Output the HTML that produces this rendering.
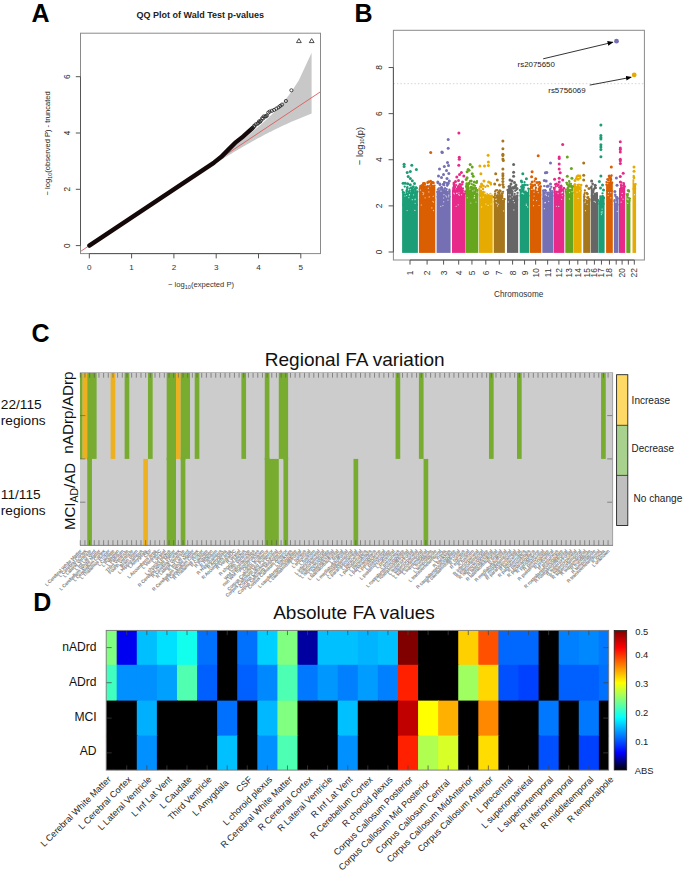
<!DOCTYPE html>
<html><head><meta charset="utf-8"><title>Figure</title>
<style>html,body{margin:0;padding:0;background:#fff;overflow:hidden;width:685px;height:870px;}svg{display:block;}</style></head>
<body><svg width="685" height="870" viewBox="0 0 685 870" font-family='"Liberation Sans", sans-serif'>
<rect width="685" height="870" fill="#fff"/>
<text x="31.4" y="21.7" font-size="25" font-weight="bold" fill="#000">A</text>
<text x="354.6" y="21.9" font-size="25" font-weight="bold" fill="#000">B</text>
<text x="31.6" y="341.5" font-size="25" font-weight="bold" fill="#000">C</text>
<text x="33.2" y="610.8" font-size="25" font-weight="bold" fill="#000">D</text>
<polygon fill="#c8c8c8" points="311.6,52.72 298.86,80.33 291.42,91.79 286.13,98.72 282.03,103.59 278.68,107.31 275.85,110.31 273.4,112.82 271.23,114.96 269.3,116.83 267.55,118.49 265.95,119.97 264.48,121.32 263.12,122.55 261.85,123.68 260.66,124.72 259.55,125.7 258.5,126.6 257.51,127.46 256.56,128.26 255.67,129.02 254.81,129.74 254,130.42 253.22,131.07 252.47,131.7 251.74,132.29 251.05,132.86 250.38,133.4 249.74,133.93 249.12,134.43 248.51,134.92 247.93,135.39 247.36,135.84 246.82,136.28 246.28,136.71 245.77,137.12 245.26,137.52 244.77,137.91 244.3,138.28 243.83,138.65 242.93,139.35 242.5,139.69 242.08,140.02 241.26,140.66 240.87,140.97 240.1,141.56 239.73,141.85 239.01,142.4 238.66,142.67 237.98,143.19 237.65,143.45 237.01,143.94 236.38,144.41 235.78,144.87 235.2,145.32 234.63,145.74 234.08,146.16 233.55,146.56 233.03,146.95 232.53,147.33 232.04,147.69 231.33,148.23 230.87,148.57 230.2,149.07 229.77,149.39 229.14,149.86 228.53,150.31 227.94,150.75 227.56,151.03 227,151.44 226.28,151.97 225.76,152.36 225.25,152.73 224.75,153.09 224.11,153.56 223.5,154.01 223.05,154.34 222.46,154.77 221.9,155.18 221.35,155.58 220.82,155.96 220.17,156.43 219.67,156.79 219.07,157.23 218.59,157.57 218.02,157.99 217.47,158.39 216.93,158.77 216.3,159.22 215.8,159.59 215.21,160.01 214.64,160.42 214.08,160.81 213.54,161.2 213.02,161.57 212.43,161.99 211.86,162.4 211.3,162.8 210.76,163.18 210.17,163.6 209.66,163.96 209.09,164.36 208.55,164.75 207.95,165.17 207.44,165.53 206.88,165.93 206.27,166.35 205.75,166.73 205.18,167.13 204.62,167.51 204.09,167.89 203.52,168.29 202.96,168.68 202.38,169.09 201.86,169.46 201.3,169.84 200.72,170.25 200.16,170.64 199.61,171.02 199.04,171.42 198.49,171.81 197.95,172.18 197.39,172.57 196.82,172.97 196.26,173.36 195.71,173.74 195.15,174.13 194.61,174.51 194.05,174.89 193.48,175.29 192.93,175.67 192.36,176.07 191.81,176.45 191.25,176.83 190.71,177.21 190.13,177.61 189.6,177.98 189.03,178.37 188.48,178.75 187.92,179.13 187.36,179.51 186.8,179.9 186.25,180.28 185.68,180.67 185.13,181.05 184.57,181.43 184.01,181.82 183.46,182.2 182.9,182.58 182.34,182.96 181.78,183.35 181.23,183.73 180.67,184.11 180.12,184.48 179.56,184.87 179,185.25 178.44,185.63 177.88,186.01 177.32,186.4 176.77,186.78 176.21,187.15 175.66,187.53 175.1,187.91 174.54,188.29 173.98,188.68 173.43,189.05 172.87,189.43 172.32,189.81 171.75,190.19 171.2,190.57 170.64,190.95 170.09,191.32 169.53,191.71 168.97,192.08 168.42,192.46 167.86,192.84 167.3,193.22 166.74,193.6 166.19,193.97 165.63,194.35 165.07,194.73 164.52,195.11 163.96,195.49 163.4,195.86 162.84,196.24 162.29,196.62 161.73,197 161.17,197.37 160.61,197.75 160.06,198.13 159.5,198.5 158.94,198.88 158.39,199.25 157.83,199.63 157.27,200.01 156.72,200.38 156.16,200.76 155.6,201.14 155.04,201.51 154.49,201.89 153.93,202.27 153.37,202.64 152.82,203.02 152.26,203.39 151.7,203.77 151.14,204.14 150.59,204.52 150.03,204.89 149.47,205.27 148.91,205.65 148.36,206.02 147.8,206.4 147.24,206.77 146.68,207.15 146.13,207.52 145.57,207.9 145.01,208.27 144.46,208.65 143.9,209.02 143.34,209.4 142.79,209.77 142.23,210.14 141.67,210.52 141.11,210.89 140.56,211.27 140,211.64 139.44,212.02 138.89,212.39 138.33,212.76 137.77,213.14 137.21,213.51 136.66,213.89 136.1,214.26 135.54,214.63 134.99,215.01 134.43,215.38 133.87,215.76 133.31,216.13 132.76,216.5 132.2,216.88 131.64,217.25 131.09,217.62 130.53,218 129.97,218.37 129.41,218.75 128.86,219.12 128.3,219.49 127.74,219.87 127.19,220.24 126.63,220.61 126.07,220.99 125.51,221.36 124.96,221.73 124.4,222.11 123.84,222.48 123.29,222.85 122.73,223.23 122.17,223.6 121.61,223.97 121.06,224.34 120.5,224.72 119.94,225.09 119.39,225.46 118.83,225.84 118.27,226.21 117.71,226.58 117.16,226.95 116.6,227.33 116.04,227.7 115.49,228.07 114.93,228.45 114.37,228.82 113.81,229.19 113.26,229.56 112.7,229.94 112.14,230.31 111.59,230.68 111.03,231.05 110.47,231.43 109.91,231.8 109.36,232.17 108.8,232.55 108.24,232.92 107.69,233.29 107.13,233.66 106.57,234.04 106.01,234.41 105.46,234.78 104.9,235.15 104.34,235.53 103.79,235.9 103.23,236.27 102.67,236.64 102.11,237.02 101.56,237.39 101,237.76 100.44,238.13 99.89,238.51 99.33,238.88 98.77,239.25 98.21,239.62 97.66,240 97.1,240.37 96.54,240.74 95.99,241.11 95.43,241.49 94.87,241.86 94.31,242.23 93.76,242.6 93.2,242.98 92.64,243.35 92.09,243.72 91.53,244.1 90.97,244.47 90.41,244.84 89.86,245.22 89.3,245.6 89.3,245.6 89.86,245.24 90.41,244.87 90.97,244.5 91.53,244.14 92.09,243.77 92.64,243.4 93.2,243.03 93.76,242.66 94.31,242.29 94.87,241.93 95.43,241.56 95.99,241.19 96.54,240.82 97.1,240.45 97.66,240.08 98.21,239.71 98.77,239.34 99.33,238.97 99.89,238.61 100.44,238.24 101,237.87 101.56,237.5 102.11,237.13 102.67,236.76 103.23,236.39 103.79,236.02 104.34,235.65 104.9,235.28 105.46,234.91 106.01,234.55 106.57,234.18 107.13,233.81 107.69,233.44 108.24,233.07 108.8,232.7 109.36,232.33 109.91,231.96 110.47,231.59 111.03,231.22 111.59,230.86 112.14,230.49 112.7,230.12 113.26,229.75 113.81,229.38 114.37,229.01 114.93,228.64 115.49,228.27 116.04,227.91 116.6,227.54 117.16,227.17 117.71,226.8 118.27,226.43 118.83,226.06 119.39,225.69 119.94,225.32 120.5,224.96 121.06,224.59 121.61,224.22 122.17,223.85 122.73,223.48 123.29,223.11 123.84,222.75 124.4,222.38 124.96,222.01 125.51,221.64 126.07,221.27 126.63,220.9 127.19,220.54 127.74,220.17 128.3,219.8 128.86,219.43 129.41,219.06 129.97,218.69 130.53,218.33 131.09,217.96 131.64,217.59 132.2,217.22 132.76,216.86 133.31,216.49 133.87,216.12 134.43,215.75 134.99,215.38 135.54,215.02 136.1,214.65 136.66,214.28 137.21,213.91 137.77,213.55 138.33,213.18 138.89,212.81 139.44,212.44 140,212.08 140.56,211.71 141.11,211.34 141.67,210.98 142.23,210.61 142.79,210.24 143.34,209.87 143.9,209.51 144.46,209.14 145.01,208.77 145.57,208.41 146.13,208.04 146.68,207.67 147.24,207.31 147.8,206.94 148.36,206.57 148.91,206.21 149.47,205.84 150.03,205.47 150.59,205.11 151.14,204.74 151.7,204.38 152.26,204.01 152.82,203.64 153.37,203.28 153.93,202.91 154.49,202.55 155.04,202.18 155.6,201.81 156.16,201.45 156.72,201.08 157.27,200.72 157.83,200.35 158.39,199.99 158.94,199.62 159.5,199.26 160.06,198.89 160.61,198.53 161.17,198.16 161.73,197.8 162.29,197.43 162.84,197.07 163.4,196.7 163.96,196.34 164.52,195.97 165.07,195.61 165.63,195.25 166.19,194.88 166.74,194.52 167.3,194.16 167.86,193.79 168.42,193.43 168.97,193.07 169.53,192.7 170.09,192.34 170.64,191.97 171.2,191.61 171.75,191.25 172.32,190.89 172.87,190.53 173.43,190.16 173.98,189.8 174.54,189.44 175.1,189.07 175.66,188.71 176.21,188.35 176.77,187.99 177.32,187.63 177.88,187.27 178.44,186.91 179,186.55 179.56,186.18 180.12,185.82 180.67,185.46 181.23,185.1 181.78,184.74 182.34,184.38 182.9,184.02 183.46,183.66 184.01,183.3 184.57,182.94 185.13,182.58 185.68,182.22 186.25,181.86 186.8,181.5 187.36,181.14 187.92,180.78 188.48,180.42 189.03,180.07 189.6,179.7 190.13,179.36 190.71,178.99 191.25,178.64 191.81,178.28 192.36,177.93 192.93,177.57 193.48,177.21 194.05,176.85 194.61,176.49 195.15,176.14 195.71,175.78 196.26,175.44 196.82,175.08 197.39,174.71 197.95,174.35 198.49,174.01 199.04,173.66 199.61,173.3 200.16,172.95 200.72,172.59 201.3,172.22 201.86,171.87 202.38,171.54 202.96,171.17 203.52,170.82 204.09,170.46 204.62,170.12 205.18,169.77 205.75,169.41 206.27,169.08 206.88,168.7 207.44,168.35 207.95,168.02 208.55,167.65 209.09,167.31 209.66,166.95 210.17,166.63 210.76,166.26 211.3,165.92 211.86,165.58 212.43,165.22 213.02,164.85 213.54,164.52 214.08,164.19 214.64,163.84 215.21,163.49 215.8,163.12 216.3,162.81 216.93,162.42 217.47,162.09 218.02,161.74 218.59,161.39 219.07,161.1 219.67,160.72 220.17,160.42 220.82,160.02 221.35,159.69 221.9,159.36 222.46,159.01 223.05,158.65 223.5,158.38 224.11,158 224.75,157.61 225.25,157.31 225.76,157 226.28,156.68 227,156.25 227.56,155.91 227.94,155.68 228.53,155.32 229.14,154.95 229.77,154.57 230.2,154.31 230.87,153.91 231.33,153.63 232.04,153.21 232.53,152.92 233.03,152.62 233.55,152.31 234.08,151.99 234.63,151.66 235.2,151.33 235.78,150.98 236.38,150.63 237.01,150.26 237.65,149.88 237.98,149.68 238.66,149.28 239.01,149.08 239.73,148.66 240.1,148.44 240.87,147.99 241.26,147.76 242.08,147.29 242.5,147.04 242.93,146.79 243.83,146.27 244.3,146.01 244.77,145.73 245.26,145.45 245.77,145.16 246.28,144.87 246.82,144.56 247.36,144.25 247.93,143.93 248.51,143.6 249.12,143.26 249.74,142.9 250.38,142.54 251.05,142.17 251.74,141.78 252.47,141.37 253.22,140.96 254,140.52 254.81,140.07 255.67,139.6 256.56,139.11 257.51,138.6 258.5,138.06 259.55,137.49 260.66,136.89 261.85,136.25 263.12,135.58 264.48,134.86 265.95,134.09 267.55,133.26 269.3,132.36 271.23,131.38 273.4,130.29 275.85,129.08 278.68,127.7 282.03,126.11 286.13,124.21 291.42,121.84 298.86,118.66 311.6,113.62"/>
<line x1="80.5" y1="251.46" x2="320.5" y2="91.74" stroke="#dc5a5a" stroke-width="0.9"/>
<path d="M89.3,245.6 L214.08,162.56 Q222.5,156.5 228.5,149.5 T243.5,136.2 L252.5,128.2" stroke="#150808" stroke-width="4.4" stroke-linecap="round" stroke-linejoin="round" fill="none"/>
<circle cx="251.74" cy="128.69" r="1.6" fill="none" stroke="#2a2a2a" stroke-width="0.8"/>
<circle cx="252.86" cy="127.87" r="1.6" fill="none" stroke="#2a2a2a" stroke-width="0.8"/>
<circle cx="254.1" cy="125.86" r="1.6" fill="none" stroke="#2a2a2a" stroke-width="0.8"/>
<circle cx="254.47" cy="126.47" r="1.6" fill="none" stroke="#2a2a2a" stroke-width="0.8"/>
<circle cx="255.71" cy="124.34" r="1.6" fill="none" stroke="#2a2a2a" stroke-width="0.8"/>
<circle cx="257.43" cy="123.87" r="1.6" fill="none" stroke="#2a2a2a" stroke-width="0.8"/>
<circle cx="258.26" cy="122.95" r="1.6" fill="none" stroke="#2a2a2a" stroke-width="0.8"/>
<circle cx="259.05" cy="121.37" r="1.6" fill="none" stroke="#2a2a2a" stroke-width="0.8"/>
<circle cx="260.03" cy="121.87" r="1.6" fill="none" stroke="#2a2a2a" stroke-width="0.8"/>
<circle cx="260.9" cy="120.68" r="1.6" fill="none" stroke="#2a2a2a" stroke-width="0.8"/>
<circle cx="262.04" cy="118.39" r="1.6" fill="none" stroke="#2a2a2a" stroke-width="0.8"/>
<circle cx="263.11" cy="118.52" r="1.6" fill="none" stroke="#2a2a2a" stroke-width="0.8"/>
<circle cx="263.64" cy="116.46" r="1.6" fill="none" stroke="#2a2a2a" stroke-width="0.8"/>
<circle cx="265.19" cy="116.41" r="1.6" fill="none" stroke="#2a2a2a" stroke-width="0.8"/>
<circle cx="266.03" cy="116.29" r="1.6" fill="none" stroke="#2a2a2a" stroke-width="0.8"/>
<circle cx="267.01" cy="115.44" r="1.6" fill="none" stroke="#2a2a2a" stroke-width="0.8"/>
<circle cx="268.3" cy="112.6" r="1.6" fill="none" stroke="#1a1a1a" stroke-width="0.75"/>
<circle cx="269.7" cy="111.6" r="1.6" fill="none" stroke="#1a1a1a" stroke-width="0.75"/>
<circle cx="271.9" cy="110.8" r="1.6" fill="none" stroke="#1a1a1a" stroke-width="0.75"/>
<circle cx="274.1" cy="109.9" r="1.6" fill="none" stroke="#1a1a1a" stroke-width="0.75"/>
<circle cx="276.3" cy="108.6" r="1.6" fill="none" stroke="#1a1a1a" stroke-width="0.75"/>
<circle cx="278.5" cy="107.3" r="1.6" fill="none" stroke="#1a1a1a" stroke-width="0.75"/>
<circle cx="280.2" cy="105.9" r="1.6" fill="none" stroke="#1a1a1a" stroke-width="0.75"/>
<circle cx="282" cy="104.6" r="1.6" fill="none" stroke="#1a1a1a" stroke-width="0.75"/>
<circle cx="285.9" cy="101" r="1.6" fill="none" stroke="#1a1a1a" stroke-width="0.75"/>
<circle cx="291.4" cy="90.3" r="1.6" fill="none" stroke="#1a1a1a" stroke-width="0.75"/>
<polygon points="296.5,42.6 301.3,42.6 298.9,38.6" fill="none" stroke="#222" stroke-width="0.8"/>
<polygon points="309.3,42.6 314.1,42.6 311.7,38.6" fill="none" stroke="#222" stroke-width="0.8"/>
<rect x="80.5" y="33.2" width="240" height="220.4" fill="none" stroke="#8a8a8a" stroke-width="1"/>
<line x1="80.5" y1="245.6" x2="80.5" y2="76.7" stroke="#555" stroke-width="1"/>
<line x1="89.3" y1="253.6" x2="300.8" y2="253.6" stroke="#555" stroke-width="1"/>
<line x1="75.8" y1="245.6" x2="80.5" y2="245.6" stroke="#555" stroke-width="1"/>
<text transform="translate(70.0,245.6) rotate(-90)" text-anchor="middle" font-size="8.3" fill="#1e1e1e">0</text>
<line x1="75.8" y1="189.3" x2="80.5" y2="189.3" stroke="#555" stroke-width="1"/>
<text transform="translate(70.0,189.3) rotate(-90)" text-anchor="middle" font-size="8.3" fill="#1e1e1e">2</text>
<line x1="75.8" y1="133" x2="80.5" y2="133" stroke="#555" stroke-width="1"/>
<text transform="translate(70.0,133) rotate(-90)" text-anchor="middle" font-size="8.3" fill="#1e1e1e">4</text>
<line x1="75.8" y1="76.7" x2="80.5" y2="76.7" stroke="#555" stroke-width="1"/>
<text transform="translate(70.0,76.7) rotate(-90)" text-anchor="middle" font-size="8.3" fill="#1e1e1e">6</text>
<line x1="89.3" y1="253.6" x2="89.3" y2="258.4" stroke="#555" stroke-width="1"/>
<text x="89.3" y="270.3" text-anchor="middle" font-size="8.1" fill="#333">0</text>
<line x1="131.6" y1="253.6" x2="131.6" y2="258.4" stroke="#555" stroke-width="1"/>
<text x="131.6" y="270.3" text-anchor="middle" font-size="8.1" fill="#333">1</text>
<line x1="173.9" y1="253.6" x2="173.9" y2="258.4" stroke="#555" stroke-width="1"/>
<text x="173.9" y="270.3" text-anchor="middle" font-size="8.1" fill="#333">2</text>
<line x1="216.2" y1="253.6" x2="216.2" y2="258.4" stroke="#555" stroke-width="1"/>
<text x="216.2" y="270.3" text-anchor="middle" font-size="8.1" fill="#333">3</text>
<line x1="258.5" y1="253.6" x2="258.5" y2="258.4" stroke="#555" stroke-width="1"/>
<text x="258.5" y="270.3" text-anchor="middle" font-size="8.1" fill="#333">4</text>
<line x1="300.8" y1="253.6" x2="300.8" y2="258.4" stroke="#555" stroke-width="1"/>
<text x="300.8" y="270.3" text-anchor="middle" font-size="8.1" fill="#333">5</text>
<text x="201.0" y="287.1" text-anchor="middle" font-size="7.6" fill="#333">− log<tspan font-size="5.6" dy="1.6">10</tspan><tspan dy="-1.6">(expected P)</tspan></text>
<text transform="translate(49.9,143.4) rotate(-90)" text-anchor="middle" font-size="7.55" fill="#222">− log<tspan font-size="5.6" dy="1.6">10</tspan><tspan dy="-1.6">(observed P) - truncated</tspan></text>
<text x="200.3" y="18.3" text-anchor="middle" font-size="9" font-weight="bold" fill="#222">QQ Plot of Wald Test p-values</text>
<rect x="402.1" y="204" width="15.8" height="48.9" fill="#1B9E77"/>
<polygon fill="#1B9E77" points="402.1,191.37 403.86,191.37 403.86,193.7 405.61,193.7 405.61,190.93 407.37,190.93 407.37,192.65 409.12,192.65 409.12,192.41 410.88,192.41 410.88,190.12 412.63,190.12 412.63,192.01 414.39,192.01 414.39,189.76 416.14,189.76 416.14,191.29 417.9,191.29 417.9,205.5 402.1,205.5"/>
<circle cx="402.39" cy="189.94" r="1.15" fill="#1B9E77"/>
<circle cx="402.88" cy="192.15" r="1.15" fill="#1B9E77"/>
<circle cx="404.22" cy="192.67" r="1.15" fill="#1B9E77"/>
<circle cx="404.91" cy="194.84" r="1.15" fill="#1B9E77"/>
<circle cx="406.59" cy="190.42" r="1.15" fill="#1B9E77"/>
<circle cx="407.13" cy="189.37" r="1.15" fill="#1B9E77"/>
<circle cx="408.73" cy="191.82" r="1.15" fill="#1B9E77"/>
<circle cx="407.76" cy="191.31" r="1.15" fill="#1B9E77"/>
<circle cx="409.74" cy="193.16" r="1.15" fill="#1B9E77"/>
<circle cx="409.57" cy="192.45" r="1.15" fill="#1B9E77"/>
<circle cx="411.94" cy="189.54" r="1.15" fill="#1B9E77"/>
<circle cx="411.82" cy="188.61" r="1.15" fill="#1B9E77"/>
<circle cx="412.91" cy="190.93" r="1.15" fill="#1B9E77"/>
<circle cx="413.76" cy="191.59" r="1.15" fill="#1B9E77"/>
<circle cx="415.01" cy="189.81" r="1.15" fill="#1B9E77"/>
<circle cx="415.2" cy="188.96" r="1.15" fill="#1B9E77"/>
<circle cx="417.42" cy="191.69" r="1.15" fill="#1B9E77"/>
<circle cx="416.68" cy="191.32" r="1.15" fill="#1B9E77"/>
<circle cx="415.18" cy="188.87" r="1.15" fill="#1B9E77"/>
<circle cx="407.07" cy="187.85" r="1.15" fill="#1B9E77"/>
<circle cx="404.73" cy="186.6" r="1.15" fill="#1B9E77"/>
<circle cx="413.55" cy="189.41" r="1.15" fill="#1B9E77"/>
<circle cx="409.85" cy="190.74" r="1.15" fill="#1B9E77"/>
<circle cx="412.32" cy="191.3" r="1.15" fill="#1B9E77"/>
<circle cx="411.01" cy="187.68" r="1.15" fill="#1B9E77"/>
<circle cx="407.43" cy="187.12" r="1.15" fill="#1B9E77"/>
<circle cx="411.3" cy="188.02" r="1.15" fill="#1B9E77"/>
<circle cx="409.4" cy="188.6" r="1.15" fill="#1B9E77"/>
<circle cx="416.14" cy="187.3" r="1.15" fill="#1B9E77"/>
<circle cx="412.27" cy="189.13" r="1.15" fill="#1B9E77"/>
<circle cx="412.78" cy="191.2" r="1.15" fill="#1B9E77"/>
<circle cx="416.8" cy="188.26" r="1.15" fill="#1B9E77"/>
<circle cx="407.11" cy="210.52" r="0.6" fill="#ffffff" fill-opacity="0.75"/>
<circle cx="412.26" cy="199.65" r="0.6" fill="#ffffff" fill-opacity="0.75"/>
<circle cx="409.49" cy="194.57" r="0.6" fill="#ffffff" fill-opacity="0.75"/>
<circle cx="404.87" cy="195.98" r="0.6" fill="#ffffff" fill-opacity="0.75"/>
<circle cx="413.59" cy="194.81" r="0.6" fill="#ffffff" fill-opacity="0.75"/>
<circle cx="406.62" cy="195.5" r="0.6" fill="#ffffff" fill-opacity="0.75"/>
<circle cx="414.98" cy="199.76" r="0.6" fill="#ffffff" fill-opacity="0.75"/>
<circle cx="409.32" cy="194.99" r="0.6" fill="#ffffff" fill-opacity="0.75"/>
<circle cx="415.14" cy="203.26" r="0.6" fill="#ffffff" fill-opacity="0.75"/>
<circle cx="414.88" cy="210.44" r="0.6" fill="#ffffff" fill-opacity="0.75"/>
<circle cx="408.86" cy="197.66" r="0.6" fill="#ffffff" fill-opacity="0.75"/>
<circle cx="415.15" cy="199.12" r="0.6" fill="#ffffff" fill-opacity="0.75"/>
<circle cx="404.1" cy="164.3" r="1.5" fill="#1B9E77"/>
<circle cx="404.1" cy="166.4" r="1.5" fill="#1B9E77"/>
<circle cx="411.8" cy="165.3" r="1.5" fill="#1B9E77"/>
<circle cx="416.4" cy="169.4" r="1.5" fill="#1B9E77"/>
<circle cx="407.2" cy="172.5" r="1.5" fill="#1B9E77"/>
<circle cx="410.3" cy="171.5" r="1.5" fill="#1B9E77"/>
<circle cx="408.2" cy="176.6" r="1.5" fill="#1B9E77"/>
<circle cx="410.3" cy="178.6" r="1.5" fill="#1B9E77"/>
<circle cx="412.3" cy="180.7" r="1.5" fill="#1B9E77"/>
<circle cx="403.1" cy="183.2" r="1.5" fill="#1B9E77"/>
<circle cx="405.2" cy="183.2" r="1.5" fill="#1B9E77"/>
<circle cx="407.7" cy="183.7" r="1.5" fill="#1B9E77"/>
<circle cx="410.3" cy="184.7" r="1.5" fill="#1B9E77"/>
<circle cx="413.3" cy="186.8" r="1.5" fill="#1B9E77"/>
<circle cx="415.9" cy="188" r="1.5" fill="#1B9E77"/>
<circle cx="414.5" cy="183.5" r="1.5" fill="#1B9E77"/>
<rect x="418.9" y="199" width="16.4" height="53.9" fill="#D95F02"/>
<polygon fill="#D95F02" points="418.9,188.26 420.54,188.26 420.54,186.64 422.18,186.64 422.18,186.14 423.82,186.14 423.82,185.88 425.46,185.88 425.46,187.49 427.1,187.49 427.1,189.11 428.74,189.11 428.74,187.71 430.38,187.71 430.38,185.14 432.02,185.14 432.02,186.62 433.66,186.62 433.66,187.09 435.3,187.09 435.3,200.5 418.9,200.5"/>
<circle cx="419.8" cy="189.42" r="1.15" fill="#D95F02"/>
<circle cx="419.96" cy="188.11" r="1.15" fill="#D95F02"/>
<circle cx="421.51" cy="186.97" r="1.15" fill="#D95F02"/>
<circle cx="420.81" cy="187.64" r="1.15" fill="#D95F02"/>
<circle cx="423.35" cy="187.07" r="1.15" fill="#D95F02"/>
<circle cx="423.37" cy="185.62" r="1.15" fill="#D95F02"/>
<circle cx="424.51" cy="184.49" r="1.15" fill="#D95F02"/>
<circle cx="424.81" cy="184.36" r="1.15" fill="#D95F02"/>
<circle cx="425.74" cy="186.42" r="1.15" fill="#D95F02"/>
<circle cx="425.86" cy="186.81" r="1.15" fill="#D95F02"/>
<circle cx="427.37" cy="187.41" r="1.15" fill="#D95F02"/>
<circle cx="427.49" cy="187.71" r="1.15" fill="#D95F02"/>
<circle cx="429.39" cy="186.09" r="1.15" fill="#D95F02"/>
<circle cx="430.02" cy="187.86" r="1.15" fill="#D95F02"/>
<circle cx="430.76" cy="184.19" r="1.15" fill="#D95F02"/>
<circle cx="431.01" cy="184.53" r="1.15" fill="#D95F02"/>
<circle cx="432.37" cy="187.47" r="1.15" fill="#D95F02"/>
<circle cx="433.45" cy="186.32" r="1.15" fill="#D95F02"/>
<circle cx="434.46" cy="185.65" r="1.15" fill="#D95F02"/>
<circle cx="433.99" cy="186.42" r="1.15" fill="#D95F02"/>
<circle cx="431.84" cy="185.68" r="1.15" fill="#D95F02"/>
<circle cx="420.23" cy="186.19" r="1.15" fill="#D95F02"/>
<circle cx="427.51" cy="182.25" r="1.15" fill="#D95F02"/>
<circle cx="427.72" cy="186.27" r="1.15" fill="#D95F02"/>
<circle cx="427.5" cy="186.86" r="1.15" fill="#D95F02"/>
<circle cx="432.33" cy="182.11" r="1.15" fill="#D95F02"/>
<circle cx="423.66" cy="183.52" r="1.15" fill="#D95F02"/>
<circle cx="422.31" cy="185.17" r="1.15" fill="#D95F02"/>
<circle cx="427.57" cy="183.14" r="1.15" fill="#D95F02"/>
<circle cx="424.65" cy="183.1" r="1.15" fill="#D95F02"/>
<circle cx="431.59" cy="185.88" r="1.15" fill="#D95F02"/>
<circle cx="432.18" cy="182.08" r="1.15" fill="#D95F02"/>
<circle cx="431.68" cy="182.97" r="1.15" fill="#D95F02"/>
<circle cx="423.17" cy="183.3" r="1.15" fill="#D95F02"/>
<circle cx="425.08" cy="197.82" r="0.6" fill="#ffffff" fill-opacity="0.75"/>
<circle cx="420.49" cy="190.1" r="0.6" fill="#ffffff" fill-opacity="0.75"/>
<circle cx="423.73" cy="193.1" r="0.6" fill="#ffffff" fill-opacity="0.75"/>
<circle cx="433.49" cy="202.1" r="0.6" fill="#ffffff" fill-opacity="0.75"/>
<circle cx="433.22" cy="196.28" r="0.6" fill="#ffffff" fill-opacity="0.75"/>
<circle cx="433.47" cy="210.62" r="0.6" fill="#ffffff" fill-opacity="0.75"/>
<circle cx="423.19" cy="194.62" r="0.6" fill="#ffffff" fill-opacity="0.75"/>
<circle cx="422.85" cy="192.27" r="0.6" fill="#ffffff" fill-opacity="0.75"/>
<circle cx="428.84" cy="191.94" r="0.6" fill="#ffffff" fill-opacity="0.75"/>
<circle cx="431.87" cy="207.94" r="0.6" fill="#ffffff" fill-opacity="0.75"/>
<circle cx="429.24" cy="196.97" r="0.6" fill="#ffffff" fill-opacity="0.75"/>
<circle cx="421.29" cy="205.02" r="0.6" fill="#ffffff" fill-opacity="0.75"/>
<circle cx="432.84" cy="201.27" r="0.6" fill="#ffffff" fill-opacity="0.75"/>
<circle cx="430.7" cy="152.6" r="1.5" fill="#D95F02"/>
<circle cx="428.7" cy="181.7" r="1.5" fill="#D95F02"/>
<circle cx="430.6" cy="181.2" r="1.5" fill="#D95F02"/>
<circle cx="433.3" cy="182.7" r="1.5" fill="#D95F02"/>
<circle cx="421.5" cy="185.8" r="1.5" fill="#D95F02"/>
<circle cx="424" cy="183.5" r="1.5" fill="#D95F02"/>
<rect x="436.6" y="196" width="14" height="56.9" fill="#7570B3"/>
<polygon fill="#7570B3" points="436.6,190.87 438.35,190.87 438.35,189.65 440.1,189.65 440.1,186.88 441.85,186.88 441.85,189.63 443.6,189.63 443.6,187.95 445.35,187.95 445.35,190.3 447.1,190.3 447.1,192.79 448.85,192.79 448.85,190.13 450.6,190.13 450.6,197.5 436.6,197.5"/>
<circle cx="437.34" cy="192.01" r="1.15" fill="#7570B3"/>
<circle cx="437.78" cy="189.68" r="1.15" fill="#7570B3"/>
<circle cx="438.72" cy="188.4" r="1.15" fill="#7570B3"/>
<circle cx="439.77" cy="190.37" r="1.15" fill="#7570B3"/>
<circle cx="440.5" cy="187.66" r="1.15" fill="#7570B3"/>
<circle cx="441.62" cy="187.15" r="1.15" fill="#7570B3"/>
<circle cx="442.52" cy="189.58" r="1.15" fill="#7570B3"/>
<circle cx="442.23" cy="187.98" r="1.15" fill="#7570B3"/>
<circle cx="445.11" cy="188.2" r="1.15" fill="#7570B3"/>
<circle cx="444.51" cy="189.05" r="1.15" fill="#7570B3"/>
<circle cx="446.14" cy="191.22" r="1.15" fill="#7570B3"/>
<circle cx="446.67" cy="189.24" r="1.15" fill="#7570B3"/>
<circle cx="447.64" cy="191.97" r="1.15" fill="#7570B3"/>
<circle cx="447.62" cy="192.85" r="1.15" fill="#7570B3"/>
<circle cx="449.4" cy="189.69" r="1.15" fill="#7570B3"/>
<circle cx="449.23" cy="191.16" r="1.15" fill="#7570B3"/>
<circle cx="443.1" cy="184.03" r="1.15" fill="#7570B3"/>
<circle cx="448.45" cy="182.88" r="1.15" fill="#7570B3"/>
<circle cx="448.61" cy="183.7" r="1.15" fill="#7570B3"/>
<circle cx="443.98" cy="183.29" r="1.15" fill="#7570B3"/>
<circle cx="437.82" cy="183.18" r="1.15" fill="#7570B3"/>
<circle cx="439.8" cy="183.6" r="1.15" fill="#7570B3"/>
<circle cx="447.19" cy="185.78" r="1.15" fill="#7570B3"/>
<circle cx="443.28" cy="184.94" r="1.15" fill="#7570B3"/>
<circle cx="444.28" cy="182.17" r="1.15" fill="#7570B3"/>
<circle cx="443.82" cy="184.17" r="1.15" fill="#7570B3"/>
<circle cx="447.01" cy="183.02" r="1.15" fill="#7570B3"/>
<circle cx="444.32" cy="185.27" r="1.15" fill="#7570B3"/>
<circle cx="441.01" cy="191.18" r="0.6" fill="#ffffff" fill-opacity="0.75"/>
<circle cx="443.69" cy="201.83" r="0.6" fill="#ffffff" fill-opacity="0.75"/>
<circle cx="446.62" cy="196.88" r="0.6" fill="#ffffff" fill-opacity="0.75"/>
<circle cx="442.94" cy="205.54" r="0.6" fill="#ffffff" fill-opacity="0.75"/>
<circle cx="443.66" cy="198" r="0.6" fill="#ffffff" fill-opacity="0.75"/>
<circle cx="445.84" cy="195.84" r="0.6" fill="#ffffff" fill-opacity="0.75"/>
<circle cx="443.99" cy="194.64" r="0.6" fill="#ffffff" fill-opacity="0.75"/>
<circle cx="448.72" cy="195.15" r="0.6" fill="#ffffff" fill-opacity="0.75"/>
<circle cx="447.97" cy="200.03" r="0.6" fill="#ffffff" fill-opacity="0.75"/>
<circle cx="440.81" cy="206.36" r="0.6" fill="#ffffff" fill-opacity="0.75"/>
<circle cx="448.74" cy="196.84" r="0.6" fill="#ffffff" fill-opacity="0.75"/>
<circle cx="441.9" cy="152" r="1.5" fill="#7570B3"/>
<circle cx="448.2" cy="148.2" r="1.5" fill="#7570B3"/>
<circle cx="448.2" cy="139.6" r="1.5" fill="#7570B3"/>
<circle cx="442.3" cy="152.5" r="1.5" fill="#7570B3"/>
<circle cx="447.5" cy="162.5" r="1.5" fill="#7570B3"/>
<circle cx="448.5" cy="165.5" r="1.5" fill="#7570B3"/>
<circle cx="444.3" cy="166.5" r="1.5" fill="#7570B3"/>
<circle cx="439.5" cy="169" r="1.5" fill="#7570B3"/>
<circle cx="446.5" cy="170.5" r="1.5" fill="#7570B3"/>
<circle cx="448.8" cy="173.5" r="1.5" fill="#7570B3"/>
<circle cx="443.5" cy="174.5" r="1.5" fill="#7570B3"/>
<circle cx="438.5" cy="176" r="1.5" fill="#7570B3"/>
<circle cx="441.5" cy="177.5" r="1.5" fill="#7570B3"/>
<circle cx="447" cy="178.5" r="1.5" fill="#7570B3"/>
<circle cx="449.3" cy="181" r="1.5" fill="#7570B3"/>
<circle cx="437.8" cy="182" r="1.5" fill="#7570B3"/>
<circle cx="444.5" cy="182.5" r="1.5" fill="#7570B3"/>
<circle cx="440" cy="184.5" r="1.5" fill="#7570B3"/>
<circle cx="447.5" cy="184.5" r="1.5" fill="#7570B3"/>
<rect x="452" y="196" width="13.4" height="56.9" fill="#E7298A"/>
<polygon fill="#E7298A" points="452,189.91 453.68,189.91 453.68,188.07 455.35,188.07 455.35,189.3 457.03,189.3 457.02,187.39 458.7,187.39 458.7,187.51 460.38,187.51 460.38,186.41 462.05,186.41 462.05,189.98 463.72,189.98 463.72,192.74 465.4,192.74 465.4,197.5 452,197.5"/>
<circle cx="453.34" cy="188.67" r="1.15" fill="#E7298A"/>
<circle cx="453.11" cy="190.19" r="1.15" fill="#E7298A"/>
<circle cx="454.06" cy="189.01" r="1.15" fill="#E7298A"/>
<circle cx="455.11" cy="187.02" r="1.15" fill="#E7298A"/>
<circle cx="456.76" cy="188.79" r="1.15" fill="#E7298A"/>
<circle cx="456.17" cy="190.57" r="1.15" fill="#E7298A"/>
<circle cx="458.29" cy="186.17" r="1.15" fill="#E7298A"/>
<circle cx="457.78" cy="187.23" r="1.15" fill="#E7298A"/>
<circle cx="459.33" cy="186.4" r="1.15" fill="#E7298A"/>
<circle cx="459.31" cy="187.98" r="1.15" fill="#E7298A"/>
<circle cx="460.6" cy="186.37" r="1.15" fill="#E7298A"/>
<circle cx="461.14" cy="184.76" r="1.15" fill="#E7298A"/>
<circle cx="462.67" cy="190.15" r="1.15" fill="#E7298A"/>
<circle cx="462.9" cy="188.47" r="1.15" fill="#E7298A"/>
<circle cx="465.18" cy="193.4" r="1.15" fill="#E7298A"/>
<circle cx="465.16" cy="191.35" r="1.15" fill="#E7298A"/>
<circle cx="453.45" cy="187.67" r="1.15" fill="#E7298A"/>
<circle cx="456.08" cy="185.11" r="1.15" fill="#E7298A"/>
<circle cx="457.81" cy="188.35" r="1.15" fill="#E7298A"/>
<circle cx="462.34" cy="184.44" r="1.15" fill="#E7298A"/>
<circle cx="454.7" cy="187.71" r="1.15" fill="#E7298A"/>
<circle cx="459.5" cy="184.4" r="1.15" fill="#E7298A"/>
<circle cx="454.02" cy="185.5" r="1.15" fill="#E7298A"/>
<circle cx="460.85" cy="188.71" r="1.15" fill="#E7298A"/>
<circle cx="453.83" cy="186.87" r="1.15" fill="#E7298A"/>
<circle cx="460.23" cy="184.31" r="1.15" fill="#E7298A"/>
<circle cx="453.95" cy="184.99" r="1.15" fill="#E7298A"/>
<circle cx="453.76" cy="184.72" r="1.15" fill="#E7298A"/>
<circle cx="458.19" cy="204.82" r="0.6" fill="#ffffff" fill-opacity="0.75"/>
<circle cx="459.28" cy="195.16" r="0.6" fill="#ffffff" fill-opacity="0.75"/>
<circle cx="456.15" cy="206.27" r="0.6" fill="#ffffff" fill-opacity="0.75"/>
<circle cx="459" cy="192.74" r="0.6" fill="#ffffff" fill-opacity="0.75"/>
<circle cx="454.4" cy="193.86" r="0.6" fill="#ffffff" fill-opacity="0.75"/>
<circle cx="453.75" cy="193.04" r="0.6" fill="#ffffff" fill-opacity="0.75"/>
<circle cx="456.63" cy="193.45" r="0.6" fill="#ffffff" fill-opacity="0.75"/>
<circle cx="461.55" cy="194.7" r="0.6" fill="#ffffff" fill-opacity="0.75"/>
<circle cx="458.7" cy="194.5" r="0.6" fill="#ffffff" fill-opacity="0.75"/>
<circle cx="457.02" cy="193.2" r="0.6" fill="#ffffff" fill-opacity="0.75"/>
<circle cx="458.9" cy="133.1" r="1.5" fill="#E7298A"/>
<circle cx="459.3" cy="157.2" r="1.5" fill="#E7298A"/>
<circle cx="459.3" cy="159.3" r="1.5" fill="#E7298A"/>
<circle cx="458.8" cy="165.3" r="1.5" fill="#E7298A"/>
<circle cx="461.4" cy="172.5" r="1.5" fill="#E7298A"/>
<circle cx="456.8" cy="177.1" r="1.5" fill="#E7298A"/>
<circle cx="459.5" cy="174.5" r="1.5" fill="#E7298A"/>
<circle cx="463.8" cy="176" r="1.5" fill="#E7298A"/>
<circle cx="455.5" cy="181.5" r="1.5" fill="#E7298A"/>
<circle cx="458.5" cy="180.5" r="1.5" fill="#E7298A"/>
<circle cx="462.5" cy="182" r="1.5" fill="#E7298A"/>
<circle cx="454" cy="183" r="1.5" fill="#E7298A"/>
<rect x="465.6" y="194" width="12.7" height="58.9" fill="#66A61E"/>
<polygon fill="#66A61E" points="465.6,185.89 467.41,185.89 467.41,183.76 469.23,183.76 469.23,187.62 471.04,187.62 471.04,188.46 472.86,188.46 472.86,186.39 474.67,186.39 474.67,187.26 476.49,187.26 476.49,190.95 478.3,190.95 478.3,195.5 465.6,195.5"/>
<circle cx="465.95" cy="186.65" r="1.15" fill="#66A61E"/>
<circle cx="466.41" cy="185.68" r="1.15" fill="#66A61E"/>
<circle cx="468.79" cy="183.24" r="1.15" fill="#66A61E"/>
<circle cx="468.33" cy="184.13" r="1.15" fill="#66A61E"/>
<circle cx="470.82" cy="186.94" r="1.15" fill="#66A61E"/>
<circle cx="470.61" cy="188.04" r="1.15" fill="#66A61E"/>
<circle cx="472.14" cy="187.98" r="1.15" fill="#66A61E"/>
<circle cx="471.73" cy="186.92" r="1.15" fill="#66A61E"/>
<circle cx="473.24" cy="184.91" r="1.15" fill="#66A61E"/>
<circle cx="474.1" cy="185.46" r="1.15" fill="#66A61E"/>
<circle cx="475.1" cy="185.81" r="1.15" fill="#66A61E"/>
<circle cx="476.06" cy="188.17" r="1.15" fill="#66A61E"/>
<circle cx="477.63" cy="190.09" r="1.15" fill="#66A61E"/>
<circle cx="477.03" cy="190.13" r="1.15" fill="#66A61E"/>
<circle cx="468.29" cy="183.7" r="1.15" fill="#66A61E"/>
<circle cx="469.42" cy="183.77" r="1.15" fill="#66A61E"/>
<circle cx="477.01" cy="181.19" r="1.15" fill="#66A61E"/>
<circle cx="469.22" cy="183.26" r="1.15" fill="#66A61E"/>
<circle cx="469.91" cy="181.17" r="1.15" fill="#66A61E"/>
<circle cx="466.61" cy="184.22" r="1.15" fill="#66A61E"/>
<circle cx="471.68" cy="184.09" r="1.15" fill="#66A61E"/>
<circle cx="468.75" cy="183.49" r="1.15" fill="#66A61E"/>
<circle cx="466.65" cy="183.48" r="1.15" fill="#66A61E"/>
<circle cx="467.56" cy="184.68" r="1.15" fill="#66A61E"/>
<circle cx="467.05" cy="184" r="1.15" fill="#66A61E"/>
<circle cx="469.93" cy="189.06" r="0.6" fill="#ffffff" fill-opacity="0.75"/>
<circle cx="472.83" cy="190.91" r="0.6" fill="#ffffff" fill-opacity="0.75"/>
<circle cx="474.53" cy="195.54" r="0.6" fill="#ffffff" fill-opacity="0.75"/>
<circle cx="474.17" cy="198.06" r="0.6" fill="#ffffff" fill-opacity="0.75"/>
<circle cx="470.81" cy="203.01" r="0.6" fill="#ffffff" fill-opacity="0.75"/>
<circle cx="476.94" cy="192.17" r="0.6" fill="#ffffff" fill-opacity="0.75"/>
<circle cx="474.26" cy="189.98" r="0.6" fill="#ffffff" fill-opacity="0.75"/>
<circle cx="467.25" cy="197.77" r="0.6" fill="#ffffff" fill-opacity="0.75"/>
<circle cx="475.99" cy="201.98" r="0.6" fill="#ffffff" fill-opacity="0.75"/>
<circle cx="474.36" cy="197.45" r="0.6" fill="#ffffff" fill-opacity="0.75"/>
<circle cx="470.2" cy="164.5" r="1.5" fill="#66A61E"/>
<circle cx="472.2" cy="167.1" r="1.5" fill="#66A61E"/>
<circle cx="468.1" cy="169.6" r="1.5" fill="#66A61E"/>
<circle cx="469" cy="170.3" r="1.5" fill="#66A61E"/>
<circle cx="467.1" cy="171.7" r="1.5" fill="#66A61E"/>
<circle cx="472.2" cy="173.7" r="1.5" fill="#66A61E"/>
<circle cx="473.2" cy="176.3" r="1.5" fill="#66A61E"/>
<circle cx="467.1" cy="177.8" r="1.5" fill="#66A61E"/>
<circle cx="466.2" cy="179.5" r="1.5" fill="#66A61E"/>
<circle cx="471.2" cy="180.9" r="1.5" fill="#66A61E"/>
<circle cx="474.3" cy="181.9" r="1.5" fill="#66A61E"/>
<circle cx="476.5" cy="182.5" r="1.5" fill="#66A61E"/>
<rect x="478.9" y="196" width="13.8" height="56.9" fill="#E6AB02"/>
<polygon fill="#E6AB02" points="478.9,190.36 480.62,190.36 480.62,191.36 482.35,191.36 482.35,191.77 484.07,191.77 484.07,194.31 485.8,194.31 485.8,195.49 487.52,195.49 487.52,196.2 489.25,196.2 489.25,195.04 490.98,195.04 490.97,196.2 492.7,196.2 492.7,197.5 478.9,197.5"/>
<circle cx="480" cy="190.74" r="1.15" fill="#E6AB02"/>
<circle cx="479.4" cy="188.76" r="1.15" fill="#E6AB02"/>
<circle cx="481" cy="190.74" r="1.15" fill="#E6AB02"/>
<circle cx="480.96" cy="192.16" r="1.15" fill="#E6AB02"/>
<circle cx="483.29" cy="191.95" r="1.15" fill="#E6AB02"/>
<circle cx="483.38" cy="192.11" r="1.15" fill="#E6AB02"/>
<circle cx="484.92" cy="192.62" r="1.15" fill="#E6AB02"/>
<circle cx="485.33" cy="194.85" r="1.15" fill="#E6AB02"/>
<circle cx="486.67" cy="195.4" r="1.15" fill="#E6AB02"/>
<circle cx="486.87" cy="193.99" r="1.15" fill="#E6AB02"/>
<circle cx="488.7" cy="195.26" r="1.15" fill="#E6AB02"/>
<circle cx="487.82" cy="195.3" r="1.15" fill="#E6AB02"/>
<circle cx="490.42" cy="193.96" r="1.15" fill="#E6AB02"/>
<circle cx="490.43" cy="196.27" r="1.15" fill="#E6AB02"/>
<circle cx="491.83" cy="195.65" r="1.15" fill="#E6AB02"/>
<circle cx="491.81" cy="196.55" r="1.15" fill="#E6AB02"/>
<circle cx="487.18" cy="185.67" r="1.15" fill="#E6AB02"/>
<circle cx="480.81" cy="186.29" r="1.15" fill="#E6AB02"/>
<circle cx="482.9" cy="188.76" r="1.15" fill="#E6AB02"/>
<circle cx="483.49" cy="185.78" r="1.15" fill="#E6AB02"/>
<circle cx="480.05" cy="186.66" r="1.15" fill="#E6AB02"/>
<circle cx="483.07" cy="189.2" r="1.15" fill="#E6AB02"/>
<circle cx="488.07" cy="186.14" r="1.15" fill="#E6AB02"/>
<circle cx="483.33" cy="186.12" r="1.15" fill="#E6AB02"/>
<circle cx="485.38" cy="186.92" r="1.15" fill="#E6AB02"/>
<circle cx="481.3" cy="187.17" r="1.15" fill="#E6AB02"/>
<circle cx="482.25" cy="185.03" r="1.15" fill="#E6AB02"/>
<circle cx="490.95" cy="184.61" r="1.15" fill="#E6AB02"/>
<circle cx="485.33" cy="192.54" r="0.6" fill="#ffffff" fill-opacity="0.75"/>
<circle cx="491.14" cy="204.01" r="0.6" fill="#ffffff" fill-opacity="0.75"/>
<circle cx="483.16" cy="197.17" r="0.6" fill="#ffffff" fill-opacity="0.75"/>
<circle cx="490.88" cy="193.99" r="0.6" fill="#ffffff" fill-opacity="0.75"/>
<circle cx="486.73" cy="194" r="0.6" fill="#ffffff" fill-opacity="0.75"/>
<circle cx="486.07" cy="193.33" r="0.6" fill="#ffffff" fill-opacity="0.75"/>
<circle cx="481.61" cy="206.91" r="0.6" fill="#ffffff" fill-opacity="0.75"/>
<circle cx="485.9" cy="204.01" r="0.6" fill="#ffffff" fill-opacity="0.75"/>
<circle cx="488.12" cy="205.45" r="0.6" fill="#ffffff" fill-opacity="0.75"/>
<circle cx="490.33" cy="194.23" r="0.6" fill="#ffffff" fill-opacity="0.75"/>
<circle cx="480.38" cy="197.75" r="0.6" fill="#ffffff" fill-opacity="0.75"/>
<circle cx="488.1" cy="155.3" r="1.5" fill="#E6AB02"/>
<circle cx="479.9" cy="166.1" r="1.5" fill="#E6AB02"/>
<circle cx="484.5" cy="166.1" r="1.5" fill="#E6AB02"/>
<circle cx="488.4" cy="162" r="1.5" fill="#E6AB02"/>
<circle cx="488.4" cy="165.5" r="1.5" fill="#E6AB02"/>
<circle cx="480.9" cy="173.7" r="1.5" fill="#E6AB02"/>
<circle cx="488.6" cy="181.9" r="1.5" fill="#E6AB02"/>
<circle cx="484" cy="180.9" r="1.5" fill="#E6AB02"/>
<circle cx="490.5" cy="183" r="1.5" fill="#E6AB02"/>
<circle cx="481.5" cy="184" r="1.5" fill="#E6AB02"/>
<rect x="493.7" y="201" width="11.2" height="51.9" fill="#A6761D"/>
<polygon fill="#A6761D" points="493.7,196.55 495.3,196.55 495.3,196.72 496.9,196.72 496.9,195.78 498.5,195.78 498.5,194.13 500.1,194.13 500.1,194.64 501.7,194.64 501.7,194.73 503.3,194.73 503.3,198.45 504.9,198.45 504.9,202.5 493.7,202.5"/>
<circle cx="493.9" cy="197.1" r="1.15" fill="#A6761D"/>
<circle cx="494.91" cy="195.21" r="1.15" fill="#A6761D"/>
<circle cx="496.61" cy="197.16" r="1.15" fill="#A6761D"/>
<circle cx="496.58" cy="195.89" r="1.15" fill="#A6761D"/>
<circle cx="497.55" cy="195.25" r="1.15" fill="#A6761D"/>
<circle cx="498.3" cy="195.84" r="1.15" fill="#A6761D"/>
<circle cx="499.13" cy="193.71" r="1.15" fill="#A6761D"/>
<circle cx="499.03" cy="192.57" r="1.15" fill="#A6761D"/>
<circle cx="500.42" cy="195.45" r="1.15" fill="#A6761D"/>
<circle cx="500.64" cy="195.75" r="1.15" fill="#A6761D"/>
<circle cx="502.2" cy="193.83" r="1.15" fill="#A6761D"/>
<circle cx="502.51" cy="193.6" r="1.15" fill="#A6761D"/>
<circle cx="503.95" cy="199.62" r="1.15" fill="#A6761D"/>
<circle cx="504.56" cy="199.18" r="1.15" fill="#A6761D"/>
<circle cx="503.1" cy="191.85" r="1.15" fill="#A6761D"/>
<circle cx="499.75" cy="190.3" r="1.15" fill="#A6761D"/>
<circle cx="495.16" cy="191.4" r="1.15" fill="#A6761D"/>
<circle cx="498.85" cy="191.34" r="1.15" fill="#A6761D"/>
<circle cx="500.63" cy="191.24" r="1.15" fill="#A6761D"/>
<circle cx="495.15" cy="193.57" r="1.15" fill="#A6761D"/>
<circle cx="495.87" cy="190.37" r="1.15" fill="#A6761D"/>
<circle cx="497.86" cy="192.64" r="1.15" fill="#A6761D"/>
<circle cx="501.5" cy="193.51" r="1.15" fill="#A6761D"/>
<circle cx="497.09" cy="190.12" r="1.15" fill="#A6761D"/>
<circle cx="497.55" cy="205.97" r="0.6" fill="#ffffff" fill-opacity="0.75"/>
<circle cx="498.37" cy="204.24" r="0.6" fill="#ffffff" fill-opacity="0.75"/>
<circle cx="496.32" cy="199.03" r="0.6" fill="#ffffff" fill-opacity="0.75"/>
<circle cx="502.87" cy="199.42" r="0.6" fill="#ffffff" fill-opacity="0.75"/>
<circle cx="496.84" cy="203.26" r="0.6" fill="#ffffff" fill-opacity="0.75"/>
<circle cx="503.67" cy="210.94" r="0.6" fill="#ffffff" fill-opacity="0.75"/>
<circle cx="496.13" cy="202.53" r="0.6" fill="#ffffff" fill-opacity="0.75"/>
<circle cx="495.7" cy="199.27" r="0.6" fill="#ffffff" fill-opacity="0.75"/>
<circle cx="502.9" cy="141" r="1.5" fill="#A6761D"/>
<circle cx="502.9" cy="148.7" r="1.5" fill="#A6761D"/>
<circle cx="502.9" cy="154.3" r="1.5" fill="#A6761D"/>
<circle cx="502.9" cy="155.6" r="1.5" fill="#A6761D"/>
<circle cx="502.9" cy="158.9" r="1.5" fill="#A6761D"/>
<circle cx="503.3" cy="160.4" r="1.5" fill="#A6761D"/>
<circle cx="502.9" cy="169.1" r="1.5" fill="#A6761D"/>
<circle cx="502.9" cy="173.7" r="1.5" fill="#A6761D"/>
<circle cx="502.9" cy="175.8" r="1.5" fill="#A6761D"/>
<circle cx="495.7" cy="173.7" r="1.5" fill="#A6761D"/>
<circle cx="497.3" cy="179.9" r="1.5" fill="#A6761D"/>
<circle cx="494.7" cy="184" r="1.5" fill="#A6761D"/>
<circle cx="499.5" cy="185" r="1.5" fill="#A6761D"/>
<circle cx="502.9" cy="178.5" r="1.5" fill="#A6761D"/>
<circle cx="502.9" cy="181.5" r="1.5" fill="#A6761D"/>
<circle cx="502.9" cy="184.5" r="1.5" fill="#A6761D"/>
<circle cx="503.5" cy="187" r="1.5" fill="#A6761D"/>
<rect x="507" y="199" width="11.2" height="53.9" fill="#666666"/>
<polygon fill="#666666" points="507,190.49 508.6,190.49 508.6,190.11 510.2,190.11 510.2,190.03 511.8,190.03 511.8,192.17 513.4,192.17 513.4,195.57 515,195.57 515,196.48 516.6,196.48 516.6,194.62 518.2,194.62 518.2,200.5 507,200.5"/>
<circle cx="507.7" cy="190.36" r="1.15" fill="#666666"/>
<circle cx="507.65" cy="189.8" r="1.15" fill="#666666"/>
<circle cx="508.87" cy="189.24" r="1.15" fill="#666666"/>
<circle cx="509.96" cy="188.79" r="1.15" fill="#666666"/>
<circle cx="511" cy="190.22" r="1.15" fill="#666666"/>
<circle cx="511.44" cy="188.98" r="1.15" fill="#666666"/>
<circle cx="512.33" cy="191.22" r="1.15" fill="#666666"/>
<circle cx="512.48" cy="191.81" r="1.15" fill="#666666"/>
<circle cx="514.74" cy="196.42" r="1.15" fill="#666666"/>
<circle cx="514.65" cy="193.93" r="1.15" fill="#666666"/>
<circle cx="515.24" cy="196.9" r="1.15" fill="#666666"/>
<circle cx="516.27" cy="196.2" r="1.15" fill="#666666"/>
<circle cx="517.5" cy="192.92" r="1.15" fill="#666666"/>
<circle cx="517.27" cy="195.7" r="1.15" fill="#666666"/>
<circle cx="515.87" cy="186.87" r="1.15" fill="#666666"/>
<circle cx="510.29" cy="186.14" r="1.15" fill="#666666"/>
<circle cx="509.42" cy="190.45" r="1.15" fill="#666666"/>
<circle cx="514.28" cy="188.39" r="1.15" fill="#666666"/>
<circle cx="514.64" cy="186.29" r="1.15" fill="#666666"/>
<circle cx="515.04" cy="187.76" r="1.15" fill="#666666"/>
<circle cx="513.07" cy="188.71" r="1.15" fill="#666666"/>
<circle cx="515.2" cy="190.8" r="1.15" fill="#666666"/>
<circle cx="516.46" cy="189.84" r="1.15" fill="#666666"/>
<circle cx="510.79" cy="187.77" r="1.15" fill="#666666"/>
<circle cx="510.42" cy="194.78" r="0.6" fill="#ffffff" fill-opacity="0.75"/>
<circle cx="514.35" cy="202.63" r="0.6" fill="#ffffff" fill-opacity="0.75"/>
<circle cx="508.82" cy="194.64" r="0.6" fill="#ffffff" fill-opacity="0.75"/>
<circle cx="513.33" cy="200.46" r="0.6" fill="#ffffff" fill-opacity="0.75"/>
<circle cx="510.17" cy="198.11" r="0.6" fill="#ffffff" fill-opacity="0.75"/>
<circle cx="508.29" cy="201.92" r="0.6" fill="#ffffff" fill-opacity="0.75"/>
<circle cx="512.25" cy="196.81" r="0.6" fill="#ffffff" fill-opacity="0.75"/>
<circle cx="513.87" cy="209.96" r="0.6" fill="#ffffff" fill-opacity="0.75"/>
<circle cx="513.6" cy="164.5" r="1.5" fill="#666666"/>
<circle cx="513.6" cy="172.2" r="1.5" fill="#666666"/>
<circle cx="513.6" cy="176.3" r="1.5" fill="#666666"/>
<circle cx="510" cy="179.9" r="1.5" fill="#666666"/>
<circle cx="512" cy="180.9" r="1.5" fill="#666666"/>
<circle cx="514.5" cy="182.5" r="1.5" fill="#666666"/>
<circle cx="511" cy="184" r="1.5" fill="#666666"/>
<circle cx="516" cy="185" r="1.5" fill="#666666"/>
<circle cx="509" cy="186.5" r="1.5" fill="#666666"/>
<circle cx="513" cy="187.5" r="1.5" fill="#666666"/>
<circle cx="517" cy="188.5" r="1.5" fill="#666666"/>
<circle cx="510.5" cy="189.5" r="1.5" fill="#666666"/>
<rect x="519.7" y="195" width="9.7" height="57.9" fill="#1B9E77"/>
<polygon fill="#1B9E77" points="519.7,190.37 521.32,190.37 521.32,188.21 522.93,188.21 522.93,187.11 524.55,187.11 524.55,191.5 526.17,191.5 526.17,192.12 527.78,192.12 527.78,189.68 529.4,189.68 529.4,196.5 519.7,196.5"/>
<circle cx="519.93" cy="190.17" r="1.15" fill="#1B9E77"/>
<circle cx="520.72" cy="189.93" r="1.15" fill="#1B9E77"/>
<circle cx="521.83" cy="188.51" r="1.15" fill="#1B9E77"/>
<circle cx="522.64" cy="187.19" r="1.15" fill="#1B9E77"/>
<circle cx="523.17" cy="186.43" r="1.15" fill="#1B9E77"/>
<circle cx="523.65" cy="187.46" r="1.15" fill="#1B9E77"/>
<circle cx="524.99" cy="192.19" r="1.15" fill="#1B9E77"/>
<circle cx="525.65" cy="191.32" r="1.15" fill="#1B9E77"/>
<circle cx="526.62" cy="193.33" r="1.15" fill="#1B9E77"/>
<circle cx="526.75" cy="192.88" r="1.15" fill="#1B9E77"/>
<circle cx="528.26" cy="188.65" r="1.15" fill="#1B9E77"/>
<circle cx="528.91" cy="188.87" r="1.15" fill="#1B9E77"/>
<circle cx="524.52" cy="182.24" r="1.15" fill="#1B9E77"/>
<circle cx="522.42" cy="186.06" r="1.15" fill="#1B9E77"/>
<circle cx="525.82" cy="184.91" r="1.15" fill="#1B9E77"/>
<circle cx="521.83" cy="182.26" r="1.15" fill="#1B9E77"/>
<circle cx="522.34" cy="185.03" r="1.15" fill="#1B9E77"/>
<circle cx="521.79" cy="182.13" r="1.15" fill="#1B9E77"/>
<circle cx="521.16" cy="186.74" r="1.15" fill="#1B9E77"/>
<circle cx="527.62" cy="185.03" r="1.15" fill="#1B9E77"/>
<circle cx="526.25" cy="204.12" r="0.6" fill="#ffffff" fill-opacity="0.75"/>
<circle cx="527.7" cy="206.94" r="0.6" fill="#ffffff" fill-opacity="0.75"/>
<circle cx="522.25" cy="193.21" r="0.6" fill="#ffffff" fill-opacity="0.75"/>
<circle cx="526.35" cy="205.39" r="0.6" fill="#ffffff" fill-opacity="0.75"/>
<circle cx="525.75" cy="190.1" r="0.6" fill="#ffffff" fill-opacity="0.75"/>
<circle cx="523.63" cy="193.96" r="0.6" fill="#ffffff" fill-opacity="0.75"/>
<circle cx="522.14" cy="193.25" r="0.6" fill="#ffffff" fill-opacity="0.75"/>
<circle cx="522.8" cy="173.7" r="1.5" fill="#1B9E77"/>
<circle cx="526.4" cy="178.8" r="1.5" fill="#1B9E77"/>
<circle cx="521.3" cy="180.9" r="1.5" fill="#1B9E77"/>
<circle cx="524.3" cy="185" r="1.5" fill="#1B9E77"/>
<rect x="530" y="194" width="11.3" height="58.9" fill="#D95F02"/>
<polygon fill="#D95F02" points="530,186.06 531.61,186.06 531.61,186.21 533.23,186.21 533.23,190.52 534.84,190.52 534.84,187.07 536.46,187.07 536.46,191.05 538.07,191.05 538.07,187.95 539.69,187.95 539.69,187.28 541.3,187.28 541.3,195.5 530,195.5"/>
<circle cx="531.2" cy="186.83" r="1.15" fill="#D95F02"/>
<circle cx="530.73" cy="184.51" r="1.15" fill="#D95F02"/>
<circle cx="532.39" cy="185.63" r="1.15" fill="#D95F02"/>
<circle cx="532.93" cy="185.09" r="1.15" fill="#D95F02"/>
<circle cx="533.87" cy="191.51" r="1.15" fill="#D95F02"/>
<circle cx="533.47" cy="190.05" r="1.15" fill="#D95F02"/>
<circle cx="536.03" cy="187.67" r="1.15" fill="#D95F02"/>
<circle cx="535.09" cy="185.47" r="1.15" fill="#D95F02"/>
<circle cx="536.73" cy="192.11" r="1.15" fill="#D95F02"/>
<circle cx="536.97" cy="191.59" r="1.15" fill="#D95F02"/>
<circle cx="539.36" cy="187.26" r="1.15" fill="#D95F02"/>
<circle cx="538.6" cy="189.12" r="1.15" fill="#D95F02"/>
<circle cx="540.63" cy="186.37" r="1.15" fill="#D95F02"/>
<circle cx="540.76" cy="186.53" r="1.15" fill="#D95F02"/>
<circle cx="531.04" cy="184.62" r="1.15" fill="#D95F02"/>
<circle cx="539.52" cy="182.22" r="1.15" fill="#D95F02"/>
<circle cx="539.77" cy="182.83" r="1.15" fill="#D95F02"/>
<circle cx="533.17" cy="185.88" r="1.15" fill="#D95F02"/>
<circle cx="539.9" cy="183.62" r="1.15" fill="#D95F02"/>
<circle cx="534.59" cy="181.23" r="1.15" fill="#D95F02"/>
<circle cx="535" cy="184.74" r="1.15" fill="#D95F02"/>
<circle cx="539.63" cy="183.53" r="1.15" fill="#D95F02"/>
<circle cx="538.46" cy="185.09" r="1.15" fill="#D95F02"/>
<circle cx="538.65" cy="182.31" r="1.15" fill="#D95F02"/>
<circle cx="536.6" cy="200.55" r="0.6" fill="#ffffff" fill-opacity="0.75"/>
<circle cx="534.04" cy="192.19" r="0.6" fill="#ffffff" fill-opacity="0.75"/>
<circle cx="538.16" cy="192.7" r="0.6" fill="#ffffff" fill-opacity="0.75"/>
<circle cx="532.96" cy="189.38" r="0.6" fill="#ffffff" fill-opacity="0.75"/>
<circle cx="533.4" cy="200.11" r="0.6" fill="#ffffff" fill-opacity="0.75"/>
<circle cx="531.5" cy="189.28" r="0.6" fill="#ffffff" fill-opacity="0.75"/>
<circle cx="534.1" cy="195.98" r="0.6" fill="#ffffff" fill-opacity="0.75"/>
<circle cx="539.06" cy="205.5" r="0.6" fill="#ffffff" fill-opacity="0.75"/>
<circle cx="533.56" cy="205.69" r="0.6" fill="#ffffff" fill-opacity="0.75"/>
<circle cx="538.2" cy="155.8" r="1.5" fill="#D95F02"/>
<circle cx="532.1" cy="171.7" r="1.5" fill="#D95F02"/>
<circle cx="531.6" cy="176.8" r="1.5" fill="#D95F02"/>
<circle cx="535.7" cy="178.8" r="1.5" fill="#D95F02"/>
<circle cx="532.1" cy="181.9" r="1.5" fill="#D95F02"/>
<circle cx="537" cy="182.5" r="1.5" fill="#D95F02"/>
<rect x="542.3" y="198" width="10.7" height="54.9" fill="#7570B3"/>
<polygon fill="#7570B3" points="542.3,189.96 544.08,189.96 544.08,191.63 545.87,191.63 545.87,194.03 547.65,194.03 547.65,193.51 549.43,193.51 549.43,191.74 551.22,191.74 551.22,192.04 553,192.04 553,199.5 542.3,199.5"/>
<circle cx="543.36" cy="190.28" r="1.15" fill="#7570B3"/>
<circle cx="543.53" cy="190.8" r="1.15" fill="#7570B3"/>
<circle cx="545.2" cy="190.3" r="1.15" fill="#7570B3"/>
<circle cx="545.45" cy="190.81" r="1.15" fill="#7570B3"/>
<circle cx="546.85" cy="193.45" r="1.15" fill="#7570B3"/>
<circle cx="547.09" cy="192.93" r="1.15" fill="#7570B3"/>
<circle cx="548.19" cy="192.55" r="1.15" fill="#7570B3"/>
<circle cx="548.06" cy="194.46" r="1.15" fill="#7570B3"/>
<circle cx="550.43" cy="191.01" r="1.15" fill="#7570B3"/>
<circle cx="550.18" cy="193.01" r="1.15" fill="#7570B3"/>
<circle cx="552.12" cy="191.03" r="1.15" fill="#7570B3"/>
<circle cx="552.54" cy="192.3" r="1.15" fill="#7570B3"/>
<circle cx="544.19" cy="186.05" r="1.15" fill="#7570B3"/>
<circle cx="550.43" cy="188.63" r="1.15" fill="#7570B3"/>
<circle cx="551.26" cy="186.8" r="1.15" fill="#7570B3"/>
<circle cx="545.85" cy="190.8" r="1.15" fill="#7570B3"/>
<circle cx="544.95" cy="190.4" r="1.15" fill="#7570B3"/>
<circle cx="548.37" cy="186.14" r="1.15" fill="#7570B3"/>
<circle cx="546.54" cy="186.35" r="1.15" fill="#7570B3"/>
<circle cx="547.21" cy="186.67" r="1.15" fill="#7570B3"/>
<circle cx="550.07" cy="189.7" r="1.15" fill="#7570B3"/>
<circle cx="544.38" cy="208.71" r="0.6" fill="#ffffff" fill-opacity="0.75"/>
<circle cx="548.65" cy="201.36" r="0.6" fill="#ffffff" fill-opacity="0.75"/>
<circle cx="546.56" cy="195.62" r="0.6" fill="#ffffff" fill-opacity="0.75"/>
<circle cx="545.19" cy="194.85" r="0.6" fill="#ffffff" fill-opacity="0.75"/>
<circle cx="548.48" cy="196.06" r="0.6" fill="#ffffff" fill-opacity="0.75"/>
<circle cx="545.19" cy="202.42" r="0.6" fill="#ffffff" fill-opacity="0.75"/>
<circle cx="546.22" cy="194.02" r="0.6" fill="#ffffff" fill-opacity="0.75"/>
<circle cx="545.04" cy="202.94" r="0.6" fill="#ffffff" fill-opacity="0.75"/>
<circle cx="550.5" cy="163" r="1.5" fill="#7570B3"/>
<circle cx="545.4" cy="172.7" r="1.5" fill="#7570B3"/>
<circle cx="546.8" cy="172.5" r="1.5" fill="#7570B3"/>
<circle cx="544.3" cy="180.4" r="1.5" fill="#7570B3"/>
<circle cx="546.2" cy="180.9" r="1.5" fill="#7570B3"/>
<circle cx="550.5" cy="183.9" r="1.5" fill="#7570B3"/>
<circle cx="548" cy="186" r="1.5" fill="#7570B3"/>
<rect x="553.5" y="195" width="10.8" height="57.9" fill="#E7298A"/>
<polygon fill="#E7298A" points="553.5,189.21 555.3,189.21 555.3,192.4 557.1,192.4 557.1,192.42 558.9,192.42 558.9,189.04 560.7,189.04 560.7,187.45 562.5,187.45 562.5,188.63 564.3,188.63 564.3,196.5 553.5,196.5"/>
<circle cx="554.47" cy="189.43" r="1.15" fill="#E7298A"/>
<circle cx="553.83" cy="188" r="1.15" fill="#E7298A"/>
<circle cx="556.47" cy="191.93" r="1.15" fill="#E7298A"/>
<circle cx="555.9" cy="191.62" r="1.15" fill="#E7298A"/>
<circle cx="558.63" cy="191.66" r="1.15" fill="#E7298A"/>
<circle cx="558.09" cy="191.79" r="1.15" fill="#E7298A"/>
<circle cx="559.68" cy="189.93" r="1.15" fill="#E7298A"/>
<circle cx="560.5" cy="188.43" r="1.15" fill="#E7298A"/>
<circle cx="561.18" cy="187.93" r="1.15" fill="#E7298A"/>
<circle cx="561.19" cy="185.76" r="1.15" fill="#E7298A"/>
<circle cx="563.96" cy="188.2" r="1.15" fill="#E7298A"/>
<circle cx="563.85" cy="188.15" r="1.15" fill="#E7298A"/>
<circle cx="558.56" cy="184.59" r="1.15" fill="#E7298A"/>
<circle cx="554.63" cy="188.19" r="1.15" fill="#E7298A"/>
<circle cx="560.14" cy="186.24" r="1.15" fill="#E7298A"/>
<circle cx="555.28" cy="184.45" r="1.15" fill="#E7298A"/>
<circle cx="557.76" cy="185.89" r="1.15" fill="#E7298A"/>
<circle cx="555.78" cy="186.48" r="1.15" fill="#E7298A"/>
<circle cx="559.09" cy="187.58" r="1.15" fill="#E7298A"/>
<circle cx="555.46" cy="184.37" r="1.15" fill="#E7298A"/>
<circle cx="561.58" cy="186.55" r="1.15" fill="#E7298A"/>
<circle cx="556.36" cy="206.26" r="0.6" fill="#ffffff" fill-opacity="0.75"/>
<circle cx="562.62" cy="192.68" r="0.6" fill="#ffffff" fill-opacity="0.75"/>
<circle cx="558.75" cy="206.45" r="0.6" fill="#ffffff" fill-opacity="0.75"/>
<circle cx="562.48" cy="192.18" r="0.6" fill="#ffffff" fill-opacity="0.75"/>
<circle cx="562.3" cy="195.62" r="0.6" fill="#ffffff" fill-opacity="0.75"/>
<circle cx="561.63" cy="199.33" r="0.6" fill="#ffffff" fill-opacity="0.75"/>
<circle cx="561.3" cy="192.96" r="0.6" fill="#ffffff" fill-opacity="0.75"/>
<circle cx="558.1" cy="193.57" r="0.6" fill="#ffffff" fill-opacity="0.75"/>
<circle cx="562.7" cy="144.6" r="1.5" fill="#E7298A"/>
<circle cx="559.2" cy="156.9" r="1.5" fill="#E7298A"/>
<circle cx="559.2" cy="158.5" r="1.5" fill="#E7298A"/>
<circle cx="559.2" cy="164" r="1.5" fill="#E7298A"/>
<circle cx="559.2" cy="169.1" r="1.5" fill="#E7298A"/>
<circle cx="560.2" cy="172.7" r="1.5" fill="#E7298A"/>
<circle cx="554.6" cy="179.3" r="1.5" fill="#E7298A"/>
<circle cx="559.2" cy="178.3" r="1.5" fill="#E7298A"/>
<circle cx="562.7" cy="179.9" r="1.5" fill="#E7298A"/>
<circle cx="559.2" cy="182" r="1.5" fill="#E7298A"/>
<circle cx="556.5" cy="184" r="1.5" fill="#E7298A"/>
<rect x="565.3" y="192" width="8.2" height="60.9" fill="#66A61E"/>
<polygon fill="#66A61E" points="565.3,190.77 566.94,190.77 566.94,187.17 568.58,187.17 568.58,185.43 570.22,185.43 570.22,185.75 571.86,185.75 571.86,186.75 573.5,186.75 573.5,193.5 565.3,193.5"/>
<circle cx="565.98" cy="189.44" r="1.15" fill="#66A61E"/>
<circle cx="565.81" cy="191.24" r="1.15" fill="#66A61E"/>
<circle cx="568.25" cy="185.59" r="1.15" fill="#66A61E"/>
<circle cx="567.84" cy="187.74" r="1.15" fill="#66A61E"/>
<circle cx="568.83" cy="186.25" r="1.15" fill="#66A61E"/>
<circle cx="568.93" cy="185.53" r="1.15" fill="#66A61E"/>
<circle cx="571.1" cy="185.93" r="1.15" fill="#66A61E"/>
<circle cx="570.8" cy="185.31" r="1.15" fill="#66A61E"/>
<circle cx="572.78" cy="186.33" r="1.15" fill="#66A61E"/>
<circle cx="572.88" cy="186.39" r="1.15" fill="#66A61E"/>
<circle cx="566.44" cy="182.81" r="1.15" fill="#66A61E"/>
<circle cx="569.33" cy="181.91" r="1.15" fill="#66A61E"/>
<circle cx="571.03" cy="183.82" r="1.15" fill="#66A61E"/>
<circle cx="569.14" cy="181.1" r="1.15" fill="#66A61E"/>
<circle cx="569.23" cy="184.1" r="1.15" fill="#66A61E"/>
<circle cx="567.1" cy="184.46" r="1.15" fill="#66A61E"/>
<circle cx="566.87" cy="182.85" r="1.15" fill="#66A61E"/>
<circle cx="569.46" cy="192.7" r="0.6" fill="#ffffff" fill-opacity="0.75"/>
<circle cx="570.19" cy="188.13" r="0.6" fill="#ffffff" fill-opacity="0.75"/>
<circle cx="570.75" cy="188.38" r="0.6" fill="#ffffff" fill-opacity="0.75"/>
<circle cx="569.47" cy="198.97" r="0.6" fill="#ffffff" fill-opacity="0.75"/>
<circle cx="569.42" cy="188.2" r="0.6" fill="#ffffff" fill-opacity="0.75"/>
<circle cx="572.02" cy="191.72" r="0.6" fill="#ffffff" fill-opacity="0.75"/>
<circle cx="567.3" cy="156.9" r="1.5" fill="#66A61E"/>
<circle cx="571.4" cy="168.6" r="1.5" fill="#66A61E"/>
<circle cx="567.3" cy="176.3" r="1.5" fill="#66A61E"/>
<circle cx="571.9" cy="178.3" r="1.5" fill="#66A61E"/>
<rect x="574" y="190" width="7.6" height="62.9" fill="#E6AB02"/>
<polygon fill="#E6AB02" points="574,183.4 575.9,183.4 575.9,186.11 577.8,186.11 577.8,185.75 579.7,185.75 579.7,186.13 581.6,186.13 581.6,191.5 574,191.5"/>
<circle cx="574.49" cy="184.64" r="1.15" fill="#E6AB02"/>
<circle cx="574.94" cy="184.57" r="1.15" fill="#E6AB02"/>
<circle cx="577.47" cy="184.9" r="1.15" fill="#E6AB02"/>
<circle cx="577.28" cy="187.2" r="1.15" fill="#E6AB02"/>
<circle cx="578.1" cy="185.1" r="1.15" fill="#E6AB02"/>
<circle cx="579.13" cy="184.52" r="1.15" fill="#E6AB02"/>
<circle cx="581.24" cy="185.26" r="1.15" fill="#E6AB02"/>
<circle cx="581.12" cy="184.86" r="1.15" fill="#E6AB02"/>
<circle cx="580.15" cy="176.49" r="1.15" fill="#E6AB02"/>
<circle cx="576.47" cy="177.96" r="1.15" fill="#E6AB02"/>
<circle cx="576.79" cy="176.47" r="1.15" fill="#E6AB02"/>
<circle cx="576.02" cy="178.82" r="1.15" fill="#E6AB02"/>
<circle cx="580.24" cy="178.19" r="1.15" fill="#E6AB02"/>
<circle cx="580.01" cy="175.6" r="1.15" fill="#E6AB02"/>
<circle cx="579.28" cy="183.39" r="0.6" fill="#ffffff" fill-opacity="0.75"/>
<circle cx="577.96" cy="182.78" r="0.6" fill="#ffffff" fill-opacity="0.75"/>
<circle cx="577.07" cy="192.15" r="0.6" fill="#ffffff" fill-opacity="0.75"/>
<circle cx="578.09" cy="198.31" r="0.6" fill="#ffffff" fill-opacity="0.75"/>
<circle cx="579.79" cy="190.84" r="0.6" fill="#ffffff" fill-opacity="0.75"/>
<circle cx="580.36" cy="182.68" r="0.6" fill="#ffffff" fill-opacity="0.75"/>
<circle cx="578.1" cy="175.8" r="1.5" fill="#E6AB02"/>
<circle cx="575" cy="180.4" r="1.5" fill="#E6AB02"/>
<circle cx="578.1" cy="179.3" r="1.5" fill="#E6AB02"/>
<rect x="583.2" y="200" width="7.1" height="52.9" fill="#A6761D"/>
<polygon fill="#A6761D" points="583.2,197.25 584.98,197.25 584.98,199.53 586.75,199.53 586.75,197.06 588.52,197.06 588.52,200.2 590.3,200.2 590.3,201.5 583.2,201.5"/>
<circle cx="584.19" cy="196.63" r="1.15" fill="#A6761D"/>
<circle cx="584.45" cy="196.87" r="1.15" fill="#A6761D"/>
<circle cx="585.42" cy="200.06" r="1.15" fill="#A6761D"/>
<circle cx="585.24" cy="200.29" r="1.15" fill="#A6761D"/>
<circle cx="587.3" cy="197.28" r="1.15" fill="#A6761D"/>
<circle cx="588.3" cy="197.12" r="1.15" fill="#A6761D"/>
<circle cx="589.64" cy="199.44" r="1.15" fill="#A6761D"/>
<circle cx="588.73" cy="198.6" r="1.15" fill="#A6761D"/>
<circle cx="587.34" cy="194.25" r="1.15" fill="#A6761D"/>
<circle cx="586.81" cy="192.84" r="1.15" fill="#A6761D"/>
<circle cx="584.87" cy="190.52" r="1.15" fill="#A6761D"/>
<circle cx="587.53" cy="193.86" r="1.15" fill="#A6761D"/>
<circle cx="584.21" cy="194.89" r="1.15" fill="#A6761D"/>
<circle cx="584.74" cy="193.23" r="1.15" fill="#A6761D"/>
<circle cx="585.45" cy="200.99" r="0.6" fill="#ffffff" fill-opacity="0.75"/>
<circle cx="587.17" cy="204.24" r="0.6" fill="#ffffff" fill-opacity="0.75"/>
<circle cx="587.33" cy="199.29" r="0.6" fill="#ffffff" fill-opacity="0.75"/>
<circle cx="585.03" cy="202.58" r="0.6" fill="#ffffff" fill-opacity="0.75"/>
<circle cx="585.54" cy="210.69" r="0.6" fill="#ffffff" fill-opacity="0.75"/>
<circle cx="583.7" cy="163" r="1.5" fill="#A6761D"/>
<circle cx="583.7" cy="175.3" r="1.5" fill="#A6761D"/>
<circle cx="583.7" cy="179.9" r="1.5" fill="#A6761D"/>
<circle cx="586.5" cy="186" r="1.5" fill="#A6761D"/>
<circle cx="589" cy="188.5" r="1.5" fill="#A6761D"/>
<rect x="590.8" y="195" width="7.2" height="57.9" fill="#666666"/>
<polygon fill="#666666" points="590.8,187.4 592.6,187.4 592.6,189.99 594.4,189.99 594.4,193.04 596.2,193.04 596.2,194.1 598,194.1 598,196.5 590.8,196.5"/>
<circle cx="591.56" cy="186.49" r="1.15" fill="#666666"/>
<circle cx="591.02" cy="187.63" r="1.15" fill="#666666"/>
<circle cx="593.59" cy="189.34" r="1.15" fill="#666666"/>
<circle cx="593.7" cy="189.62" r="1.15" fill="#666666"/>
<circle cx="595.91" cy="193.54" r="1.15" fill="#666666"/>
<circle cx="594.95" cy="194.05" r="1.15" fill="#666666"/>
<circle cx="596.46" cy="193.99" r="1.15" fill="#666666"/>
<circle cx="596.97" cy="193.11" r="1.15" fill="#666666"/>
<circle cx="595.85" cy="188.01" r="1.15" fill="#666666"/>
<circle cx="594.66" cy="188.24" r="1.15" fill="#666666"/>
<circle cx="592.54" cy="183.6" r="1.15" fill="#666666"/>
<circle cx="594.96" cy="187.3" r="1.15" fill="#666666"/>
<circle cx="595.14" cy="185.77" r="1.15" fill="#666666"/>
<circle cx="592.71" cy="184.23" r="1.15" fill="#666666"/>
<circle cx="593.44" cy="194" r="0.6" fill="#ffffff" fill-opacity="0.75"/>
<circle cx="596.27" cy="191.47" r="0.6" fill="#ffffff" fill-opacity="0.75"/>
<circle cx="595.43" cy="202.18" r="0.6" fill="#ffffff" fill-opacity="0.75"/>
<circle cx="596.05" cy="191.31" r="0.6" fill="#ffffff" fill-opacity="0.75"/>
<circle cx="594.23" cy="201.4" r="0.6" fill="#ffffff" fill-opacity="0.75"/>
<circle cx="591.6" cy="181" r="1.5" fill="#666666"/>
<circle cx="595.2" cy="185.2" r="1.5" fill="#666666"/>
<rect x="598.3" y="203" width="6.3" height="49.9" fill="#1B9E77"/>
<polygon fill="#1B9E77" points="598.3,200.9 599.88,200.9 599.88,198.89 601.45,198.89 601.45,196.94 603.03,196.94 603.02,196.76 604.6,196.76 604.6,204.5 598.3,204.5"/>
<circle cx="598.55" cy="200.21" r="1.15" fill="#1B9E77"/>
<circle cx="599.38" cy="201.28" r="1.15" fill="#1B9E77"/>
<circle cx="601.07" cy="199.33" r="1.15" fill="#1B9E77"/>
<circle cx="600.39" cy="198.85" r="1.15" fill="#1B9E77"/>
<circle cx="602.16" cy="197.61" r="1.15" fill="#1B9E77"/>
<circle cx="602.26" cy="196.04" r="1.15" fill="#1B9E77"/>
<circle cx="603.98" cy="197.95" r="1.15" fill="#1B9E77"/>
<circle cx="603.48" cy="197.7" r="1.15" fill="#1B9E77"/>
<circle cx="600.42" cy="197.92" r="1.15" fill="#1B9E77"/>
<circle cx="602.5" cy="196.82" r="1.15" fill="#1B9E77"/>
<circle cx="602.51" cy="193.28" r="1.15" fill="#1B9E77"/>
<circle cx="603.08" cy="196.37" r="1.15" fill="#1B9E77"/>
<circle cx="600.33" cy="196.36" r="1.15" fill="#1B9E77"/>
<circle cx="601.96" cy="213.1" r="0.6" fill="#ffffff" fill-opacity="0.75"/>
<circle cx="602.09" cy="209.07" r="0.6" fill="#ffffff" fill-opacity="0.75"/>
<circle cx="601.33" cy="214.56" r="0.6" fill="#ffffff" fill-opacity="0.75"/>
<circle cx="602.22" cy="211.77" r="0.6" fill="#ffffff" fill-opacity="0.75"/>
<circle cx="601.21" cy="212.12" r="0.6" fill="#ffffff" fill-opacity="0.75"/>
<circle cx="600.9" cy="125" r="1.5" fill="#1B9E77"/>
<circle cx="600.9" cy="135.5" r="1.5" fill="#1B9E77"/>
<circle cx="600.9" cy="137.5" r="1.5" fill="#1B9E77"/>
<circle cx="600.9" cy="139.1" r="1.5" fill="#1B9E77"/>
<circle cx="600.9" cy="144.8" r="1.5" fill="#1B9E77"/>
<circle cx="600.9" cy="147" r="1.5" fill="#1B9E77"/>
<circle cx="600.9" cy="149.5" r="1.5" fill="#1B9E77"/>
<circle cx="600.9" cy="156.7" r="1.5" fill="#1B9E77"/>
<circle cx="600.9" cy="175.9" r="1.5" fill="#1B9E77"/>
<circle cx="599.4" cy="181.6" r="1.5" fill="#1B9E77"/>
<circle cx="602.5" cy="185" r="1.5" fill="#1B9E77"/>
<circle cx="600.5" cy="188" r="1.5" fill="#1B9E77"/>
<circle cx="603.5" cy="190" r="1.5" fill="#1B9E77"/>
<rect x="606.1" y="190" width="6.7" height="62.9" fill="#D95F02"/>
<polygon fill="#D95F02" points="606.1,183.69 607.77,183.69 607.77,181.9 609.45,181.9 609.45,180.24 611.12,180.24 611.12,182.21 612.8,182.21 612.8,191.5 606.1,191.5"/>
<circle cx="606.4" cy="184.72" r="1.15" fill="#D95F02"/>
<circle cx="606.48" cy="182.07" r="1.15" fill="#D95F02"/>
<circle cx="608.11" cy="182.98" r="1.15" fill="#D95F02"/>
<circle cx="608.41" cy="180.62" r="1.15" fill="#D95F02"/>
<circle cx="609.69" cy="178.67" r="1.15" fill="#D95F02"/>
<circle cx="610.53" cy="180.44" r="1.15" fill="#D95F02"/>
<circle cx="612.21" cy="182.72" r="1.15" fill="#D95F02"/>
<circle cx="611.41" cy="182.28" r="1.15" fill="#D95F02"/>
<circle cx="610.94" cy="178.18" r="1.15" fill="#D95F02"/>
<circle cx="611.29" cy="175.9" r="1.15" fill="#D95F02"/>
<circle cx="611.18" cy="179.67" r="1.15" fill="#D95F02"/>
<circle cx="611.54" cy="175.43" r="1.15" fill="#D95F02"/>
<circle cx="608.07" cy="179.46" r="1.15" fill="#D95F02"/>
<circle cx="607.26" cy="179.44" r="1.15" fill="#D95F02"/>
<circle cx="610.79" cy="197.83" r="0.6" fill="#ffffff" fill-opacity="0.75"/>
<circle cx="610.85" cy="192.6" r="0.6" fill="#ffffff" fill-opacity="0.75"/>
<circle cx="608.54" cy="192.54" r="0.6" fill="#ffffff" fill-opacity="0.75"/>
<circle cx="607.72" cy="183.6" r="0.6" fill="#ffffff" fill-opacity="0.75"/>
<circle cx="608.18" cy="195.52" r="0.6" fill="#ffffff" fill-opacity="0.75"/>
<circle cx="611.3" cy="167.1" r="1.5" fill="#D95F02"/>
<circle cx="609.2" cy="175.9" r="1.5" fill="#D95F02"/>
<circle cx="609.8" cy="177.8" r="1.5" fill="#D95F02"/>
<rect x="613.9" y="204" width="4.6" height="48.9" fill="#7570B3"/>
<polygon fill="#7570B3" points="613.9,200.77 615.43,200.77 615.43,197.83 616.97,197.83 616.97,197.87 618.5,197.87 618.5,205.5 613.9,205.5"/>
<circle cx="614.42" cy="201.22" r="1.15" fill="#7570B3"/>
<circle cx="614.52" cy="200.03" r="1.15" fill="#7570B3"/>
<circle cx="616.73" cy="197.65" r="1.15" fill="#7570B3"/>
<circle cx="616.6" cy="197.99" r="1.15" fill="#7570B3"/>
<circle cx="617.2" cy="197.41" r="1.15" fill="#7570B3"/>
<circle cx="617.66" cy="198.49" r="1.15" fill="#7570B3"/>
<circle cx="616.73" cy="197.27" r="1.15" fill="#7570B3"/>
<circle cx="615.46" cy="196.31" r="1.15" fill="#7570B3"/>
<circle cx="615.14" cy="194.69" r="1.15" fill="#7570B3"/>
<circle cx="615.34" cy="194.9" r="1.15" fill="#7570B3"/>
<circle cx="615.54" cy="202" r="0.6" fill="#ffffff" fill-opacity="0.75"/>
<circle cx="617.25" cy="211.32" r="0.6" fill="#ffffff" fill-opacity="0.75"/>
<circle cx="616.18" cy="202" r="0.6" fill="#ffffff" fill-opacity="0.75"/>
<circle cx="616.4" cy="177.9" r="1.5" fill="#7570B3"/>
<circle cx="617" cy="185.2" r="1.5" fill="#7570B3"/>
<circle cx="614.9" cy="191.4" r="1.5" fill="#7570B3"/>
<rect x="619" y="193" width="6.2" height="59.9" fill="#E7298A"/>
<polygon fill="#E7298A" points="619,189.96 620.55,189.96 620.55,186.82 622.1,186.82 622.1,187.27 623.65,187.27 623.65,186.48 625.2,186.48 625.2,194.5 619,194.5"/>
<circle cx="620.16" cy="189.04" r="1.15" fill="#E7298A"/>
<circle cx="620.29" cy="189.11" r="1.15" fill="#E7298A"/>
<circle cx="621" cy="187.22" r="1.15" fill="#E7298A"/>
<circle cx="621.32" cy="185.45" r="1.15" fill="#E7298A"/>
<circle cx="623.03" cy="185.81" r="1.15" fill="#E7298A"/>
<circle cx="623.21" cy="187.66" r="1.15" fill="#E7298A"/>
<circle cx="624.75" cy="186.67" r="1.15" fill="#E7298A"/>
<circle cx="624.26" cy="185.99" r="1.15" fill="#E7298A"/>
<circle cx="623.74" cy="183.23" r="1.15" fill="#E7298A"/>
<circle cx="623.73" cy="184.77" r="1.15" fill="#E7298A"/>
<circle cx="620.87" cy="185.07" r="1.15" fill="#E7298A"/>
<circle cx="623.79" cy="183.88" r="1.15" fill="#E7298A"/>
<circle cx="621.59" cy="182.69" r="1.15" fill="#E7298A"/>
<circle cx="621.09" cy="202.16" r="0.6" fill="#ffffff" fill-opacity="0.75"/>
<circle cx="622.22" cy="193.46" r="0.6" fill="#ffffff" fill-opacity="0.75"/>
<circle cx="623.06" cy="199.21" r="0.6" fill="#ffffff" fill-opacity="0.75"/>
<circle cx="621.52" cy="196.93" r="0.6" fill="#ffffff" fill-opacity="0.75"/>
<circle cx="620.3" cy="141.7" r="1.5" fill="#E7298A"/>
<circle cx="620.3" cy="147.9" r="1.5" fill="#E7298A"/>
<circle cx="620.3" cy="149.5" r="1.5" fill="#E7298A"/>
<circle cx="620.3" cy="152.1" r="1.5" fill="#E7298A"/>
<circle cx="620.3" cy="159.3" r="1.5" fill="#E7298A"/>
<circle cx="620.3" cy="160.8" r="1.5" fill="#E7298A"/>
<circle cx="620.3" cy="163.4" r="1.5" fill="#E7298A"/>
<circle cx="623.2" cy="173.3" r="1.5" fill="#E7298A"/>
<circle cx="620.3" cy="176.4" r="1.5" fill="#E7298A"/>
<circle cx="620.3" cy="182.1" r="1.5" fill="#E7298A"/>
<rect x="626.3" y="200" width="4.1" height="52.9" fill="#66A61E"/>
<polygon fill="#66A61E" points="626.3,194.91 628.35,194.91 628.35,198.57 630.4,198.57 630.4,201.5 626.3,201.5"/>
<circle cx="627.59" cy="195.43" r="1.15" fill="#66A61E"/>
<circle cx="626.78" cy="194.52" r="1.15" fill="#66A61E"/>
<circle cx="629.83" cy="198.6" r="1.15" fill="#66A61E"/>
<circle cx="628.76" cy="198.25" r="1.15" fill="#66A61E"/>
<circle cx="627.8" cy="190.57" r="1.15" fill="#66A61E"/>
<circle cx="627.93" cy="194.04" r="1.15" fill="#66A61E"/>
<circle cx="629.07" cy="191.48" r="1.15" fill="#66A61E"/>
<circle cx="627.77" cy="198.85" r="0.6" fill="#ffffff" fill-opacity="0.75"/>
<circle cx="628.06" cy="199.72" r="0.6" fill="#ffffff" fill-opacity="0.75"/>
<circle cx="627.77" cy="203.28" r="0.6" fill="#ffffff" fill-opacity="0.75"/>
<circle cx="628.5" cy="190.5" r="1.5" fill="#66A61E"/>
<rect x="632.5" y="188" width="3.6" height="64.9" fill="#E6AB02"/>
<polygon fill="#E6AB02" points="632.5,179.15 634.3,179.15 634.3,183.62 636.1,183.62 636.1,189.5 632.5,189.5"/>
<circle cx="633.72" cy="177.75" r="1.15" fill="#E6AB02"/>
<circle cx="634.05" cy="177.75" r="1.15" fill="#E6AB02"/>
<circle cx="635.04" cy="184.87" r="1.15" fill="#E6AB02"/>
<circle cx="635.61" cy="184.12" r="1.15" fill="#E6AB02"/>
<circle cx="633.81" cy="176.83" r="1.15" fill="#E6AB02"/>
<circle cx="633.67" cy="175.81" r="1.15" fill="#E6AB02"/>
<circle cx="634.12" cy="177.97" r="1.15" fill="#E6AB02"/>
<circle cx="634.18" cy="182.11" r="0.6" fill="#ffffff" fill-opacity="0.75"/>
<circle cx="634.53" cy="194.66" r="0.6" fill="#ffffff" fill-opacity="0.75"/>
<circle cx="634" cy="167.1" r="1.5" fill="#E6AB02"/>
<circle cx="634" cy="171.2" r="1.5" fill="#E6AB02"/>
<circle cx="616.5" cy="41.2" r="2.4" fill="#7570B3"/>
<circle cx="634.2" cy="74.9" r="2.4" fill="#E6AB02"/>
<line x1="393.4" y1="83.66" x2="644.4" y2="83.66" stroke="#d2caca" stroke-width="0.8" stroke-dasharray="1.5,2"/>
<defs><marker id="ah" markerWidth="6" markerHeight="6" refX="5" refY="3" orient="auto" markerUnits="userSpaceOnUse"><path d="M0,0.6 L6,3 L0,5.4 z" fill="#000"/></marker></defs>
<line x1="543.2" y1="58.8" x2="612.6" y2="42.3" stroke="#000" stroke-width="0.8" marker-end="url(#ah)"/>
<line x1="589.7" y1="85.1" x2="631.0" y2="77.3" stroke="#000" stroke-width="0.8" marker-end="url(#ah)"/>
<text x="517.6" y="66.8" font-size="7.9" fill="#222">rs2075650</text>
<text x="548.3" y="93.1" font-size="7.9" fill="#222">rs5756069</text>
<rect x="393.4" y="30.3" width="251" height="229.7" fill="none" stroke="#8a8a8a" stroke-width="1"/>
<line x1="393.4" y1="252" x2="393.4" y2="67.52" stroke="#555" stroke-width="1"/>
<line x1="388.6" y1="252" x2="393.4" y2="252" stroke="#555" stroke-width="1"/>
<text transform="translate(382.3,252) rotate(-90)" text-anchor="middle" font-size="8.4" fill="#1e1e1e">0</text>
<line x1="388.6" y1="205.88" x2="393.4" y2="205.88" stroke="#555" stroke-width="1"/>
<text transform="translate(382.3,205.88) rotate(-90)" text-anchor="middle" font-size="8.4" fill="#1e1e1e">2</text>
<line x1="388.6" y1="159.76" x2="393.4" y2="159.76" stroke="#555" stroke-width="1"/>
<text transform="translate(382.3,159.76) rotate(-90)" text-anchor="middle" font-size="8.4" fill="#1e1e1e">4</text>
<line x1="388.6" y1="113.64" x2="393.4" y2="113.64" stroke="#555" stroke-width="1"/>
<text transform="translate(382.3,113.64) rotate(-90)" text-anchor="middle" font-size="8.4" fill="#1e1e1e">6</text>
<line x1="388.6" y1="67.52" x2="393.4" y2="67.52" stroke="#555" stroke-width="1"/>
<text transform="translate(382.3,67.52) rotate(-90)" text-anchor="middle" font-size="8.4" fill="#1e1e1e">8</text>
<line x1="410" y1="260.0" x2="634.3" y2="260.0" stroke="#555" stroke-width="1"/>
<line x1="410" y1="260.0" x2="410" y2="264.6" stroke="#555" stroke-width="1"/>
<text transform="translate(413,272.8) rotate(-90)" text-anchor="middle" font-size="8.4" fill="#333">1</text>
<line x1="427.1" y1="260.0" x2="427.1" y2="264.6" stroke="#555" stroke-width="1"/>
<text transform="translate(430.1,272.8) rotate(-90)" text-anchor="middle" font-size="8.4" fill="#333">2</text>
<line x1="443.6" y1="260.0" x2="443.6" y2="264.6" stroke="#555" stroke-width="1"/>
<text transform="translate(446.6,272.8) rotate(-90)" text-anchor="middle" font-size="8.4" fill="#333">3</text>
<line x1="458.7" y1="260.0" x2="458.7" y2="264.6" stroke="#555" stroke-width="1"/>
<text transform="translate(461.7,272.8) rotate(-90)" text-anchor="middle" font-size="8.4" fill="#333">4</text>
<line x1="471.95" y1="260.0" x2="471.95" y2="264.6" stroke="#555" stroke-width="1"/>
<text transform="translate(474.95,272.8) rotate(-90)" text-anchor="middle" font-size="8.4" fill="#333">5</text>
<line x1="485.8" y1="260.0" x2="485.8" y2="264.6" stroke="#555" stroke-width="1"/>
<text transform="translate(488.8,272.8) rotate(-90)" text-anchor="middle" font-size="8.4" fill="#333">6</text>
<line x1="499.3" y1="260.0" x2="499.3" y2="264.6" stroke="#555" stroke-width="1"/>
<text transform="translate(502.3,272.8) rotate(-90)" text-anchor="middle" font-size="8.4" fill="#333">7</text>
<line x1="512.6" y1="260.0" x2="512.6" y2="264.6" stroke="#555" stroke-width="1"/>
<text transform="translate(515.6,272.8) rotate(-90)" text-anchor="middle" font-size="8.4" fill="#333">8</text>
<line x1="524.55" y1="260.0" x2="524.55" y2="264.6" stroke="#555" stroke-width="1"/>
<text transform="translate(527.55,272.8) rotate(-90)" text-anchor="middle" font-size="8.4" fill="#333">9</text>
<line x1="535.65" y1="260.0" x2="535.65" y2="264.6" stroke="#555" stroke-width="1"/>
<text transform="translate(538.65,272.8) rotate(-90)" text-anchor="middle" font-size="8.4" fill="#333">10</text>
<line x1="547.65" y1="260.0" x2="547.65" y2="264.6" stroke="#555" stroke-width="1"/>
<text transform="translate(550.65,272.8) rotate(-90)" text-anchor="middle" font-size="8.4" fill="#333">11</text>
<line x1="558.9" y1="260.0" x2="558.9" y2="264.6" stroke="#555" stroke-width="1"/>
<text transform="translate(561.9,272.8) rotate(-90)" text-anchor="middle" font-size="8.4" fill="#333">12</text>
<line x1="569.4" y1="260.0" x2="569.4" y2="264.6" stroke="#555" stroke-width="1"/>
<text transform="translate(572.4,272.8) rotate(-90)" text-anchor="middle" font-size="8.4" fill="#333">13</text>
<line x1="577.8" y1="260.0" x2="577.8" y2="264.6" stroke="#555" stroke-width="1"/>
<text transform="translate(580.8,272.8) rotate(-90)" text-anchor="middle" font-size="8.4" fill="#333">14</text>
<line x1="586.75" y1="260.0" x2="586.75" y2="264.6" stroke="#555" stroke-width="1"/>
<text transform="translate(589.75,272.8) rotate(-90)" text-anchor="middle" font-size="8.4" fill="#333">15</text>
<line x1="594.4" y1="260.0" x2="594.4" y2="264.6" stroke="#555" stroke-width="1"/>
<text transform="translate(597.4,272.8) rotate(-90)" text-anchor="middle" font-size="8.4" fill="#333">16</text>
<line x1="601.45" y1="260.0" x2="601.45" y2="264.6" stroke="#555" stroke-width="1"/>
<text transform="translate(604.45,272.8) rotate(-90)" text-anchor="middle" font-size="8.4" fill="#333">17</text>
<line x1="609.45" y1="260.0" x2="609.45" y2="264.6" stroke="#555" stroke-width="1"/>
<text transform="translate(612.45,272.8) rotate(-90)" text-anchor="middle" font-size="8.4" fill="#333">18</text>
<line x1="616.2" y1="260.0" x2="616.2" y2="264.6" stroke="#555" stroke-width="1"/>
<line x1="622.1" y1="260.0" x2="622.1" y2="264.6" stroke="#555" stroke-width="1"/>
<text transform="translate(625.1,272.8) rotate(-90)" text-anchor="middle" font-size="8.4" fill="#333">20</text>
<line x1="628.35" y1="260.0" x2="628.35" y2="264.6" stroke="#555" stroke-width="1"/>
<line x1="634.3" y1="260.0" x2="634.3" y2="264.6" stroke="#555" stroke-width="1"/>
<text transform="translate(637.3,272.8) rotate(-90)" text-anchor="middle" font-size="8.4" fill="#333">22</text>
<text x="518.7" y="296.5" text-anchor="middle" font-size="8.2" fill="#333">Chromosome</text>
<text transform="translate(362.8,146) rotate(-90)" text-anchor="middle" font-size="9.4" fill="#222">− log<tspan font-size="5.6" dy="1.6">10</tspan><tspan dy="-1.6">(p)</tspan></text>
<rect x="80.0" y="372.5" width="532.6" height="172.9" fill="#CCCCCC"/>
<rect x="80" y="372.5" width="2.6" height="86.4" fill="#77AC30"/>
<rect x="82.6" y="372.5" width="4.67" height="86.4" fill="#EDB120"/>
<rect x="87.27" y="372.5" width="9.34" height="86.4" fill="#77AC30"/>
<rect x="110.63" y="372.5" width="4.67" height="86.4" fill="#EDB120"/>
<rect x="124.64" y="372.5" width="4.67" height="86.4" fill="#77AC30"/>
<rect x="147.99" y="372.5" width="4.67" height="86.4" fill="#77AC30"/>
<rect x="166.68" y="372.5" width="9.34" height="86.4" fill="#77AC30"/>
<rect x="176.02" y="372.5" width="4.67" height="86.4" fill="#EDB120"/>
<rect x="180.69" y="372.5" width="9.34" height="86.4" fill="#77AC30"/>
<rect x="194.7" y="372.5" width="4.67" height="86.4" fill="#77AC30"/>
<rect x="241.41" y="372.5" width="4.67" height="86.4" fill="#77AC30"/>
<rect x="264.77" y="372.5" width="4.67" height="86.4" fill="#77AC30"/>
<rect x="278.78" y="372.5" width="9.34" height="86.4" fill="#77AC30"/>
<rect x="395.56" y="372.5" width="4.67" height="86.4" fill="#77AC30"/>
<rect x="418.91" y="372.5" width="4.67" height="86.4" fill="#77AC30"/>
<rect x="488.98" y="372.5" width="4.67" height="86.4" fill="#77AC30"/>
<rect x="517" y="372.5" width="4.67" height="86.4" fill="#77AC30"/>
<rect x="601.08" y="372.5" width="4.67" height="86.4" fill="#77AC30"/>
<rect x="87.27" y="458.9" width="4.67" height="86.5" fill="#77AC30"/>
<rect x="143.32" y="458.9" width="4.67" height="86.5" fill="#EDB120"/>
<rect x="166.68" y="458.9" width="9.34" height="86.5" fill="#77AC30"/>
<rect x="180.69" y="458.9" width="4.67" height="86.5" fill="#77AC30"/>
<rect x="264.77" y="458.9" width="14.01" height="86.5" fill="#77AC30"/>
<rect x="283.45" y="458.9" width="4.67" height="86.5" fill="#77AC30"/>
<rect x="353.52" y="458.9" width="4.67" height="86.5" fill="#77AC30"/>
<rect x="423.58" y="458.9" width="4.67" height="86.5" fill="#77AC30"/>
<rect x="87.27" y="457.7" width="4.67" height="2.4" fill="#77AC30"/>
<rect x="166.68" y="457.7" width="9.34" height="2.4" fill="#77AC30"/>
<rect x="180.69" y="457.7" width="4.67" height="2.4" fill="#77AC30"/>
<rect x="264.77" y="457.7" width="4.67" height="2.4" fill="#77AC30"/>
<rect x="283.45" y="457.7" width="4.67" height="2.4" fill="#77AC30"/>
<path d="M80.26,372.5v5.2M80.26,545.4v-5.2M84.94,372.5v5.2M84.94,545.4v-5.2M89.61,372.5v5.2M89.61,545.4v-5.2M94.28,372.5v5.2M94.28,545.4v-5.2M98.95,372.5v5.2M98.95,545.4v-5.2M103.62,372.5v5.2M103.62,545.4v-5.2M108.29,372.5v5.2M108.29,545.4v-5.2M112.96,372.5v5.2M112.96,545.4v-5.2M117.63,372.5v5.2M117.63,545.4v-5.2M122.3,372.5v5.2M122.3,545.4v-5.2M126.97,372.5v5.2M126.97,545.4v-5.2M131.65,372.5v5.2M131.65,545.4v-5.2M136.32,372.5v5.2M136.32,545.4v-5.2M140.99,372.5v5.2M140.99,545.4v-5.2M145.66,372.5v5.2M145.66,545.4v-5.2M150.33,372.5v5.2M150.33,545.4v-5.2M155,372.5v5.2M155,545.4v-5.2M159.67,372.5v5.2M159.67,545.4v-5.2M164.34,372.5v5.2M164.34,545.4v-5.2M169.01,372.5v5.2M169.01,545.4v-5.2M173.68,372.5v5.2M173.68,545.4v-5.2M178.36,372.5v5.2M178.36,545.4v-5.2M183.03,372.5v5.2M183.03,545.4v-5.2M187.7,372.5v5.2M187.7,545.4v-5.2M192.37,372.5v5.2M192.37,545.4v-5.2M197.04,372.5v5.2M197.04,545.4v-5.2M201.71,372.5v5.2M201.71,545.4v-5.2M206.38,372.5v5.2M206.38,545.4v-5.2M211.05,372.5v5.2M211.05,545.4v-5.2M215.72,372.5v5.2M215.72,545.4v-5.2M220.39,372.5v5.2M220.39,545.4v-5.2M225.07,372.5v5.2M225.07,545.4v-5.2M229.74,372.5v5.2M229.74,545.4v-5.2M234.41,372.5v5.2M234.41,545.4v-5.2M239.08,372.5v5.2M239.08,545.4v-5.2M243.75,372.5v5.2M243.75,545.4v-5.2M248.42,372.5v5.2M248.42,545.4v-5.2M253.09,372.5v5.2M253.09,545.4v-5.2M257.76,372.5v5.2M257.76,545.4v-5.2M262.43,372.5v5.2M262.43,545.4v-5.2M267.1,372.5v5.2M267.1,545.4v-5.2M271.78,372.5v5.2M271.78,545.4v-5.2M276.45,372.5v5.2M276.45,545.4v-5.2M281.12,372.5v5.2M281.12,545.4v-5.2M285.79,372.5v5.2M285.79,545.4v-5.2M290.46,372.5v5.2M290.46,545.4v-5.2M295.13,372.5v5.2M295.13,545.4v-5.2M299.8,372.5v5.2M299.8,545.4v-5.2M304.47,372.5v5.2M304.47,545.4v-5.2M309.14,372.5v5.2M309.14,545.4v-5.2M313.81,372.5v5.2M313.81,545.4v-5.2M318.49,372.5v5.2M318.49,545.4v-5.2M323.16,372.5v5.2M323.16,545.4v-5.2M327.83,372.5v5.2M327.83,545.4v-5.2M332.5,372.5v5.2M332.5,545.4v-5.2M337.17,372.5v5.2M337.17,545.4v-5.2M341.84,372.5v5.2M341.84,545.4v-5.2M346.51,372.5v5.2M346.51,545.4v-5.2M351.18,372.5v5.2M351.18,545.4v-5.2M355.85,372.5v5.2M355.85,545.4v-5.2M360.52,372.5v5.2M360.52,545.4v-5.2M365.2,372.5v5.2M365.2,545.4v-5.2M369.87,372.5v5.2M369.87,545.4v-5.2M374.54,372.5v5.2M374.54,545.4v-5.2M379.21,372.5v5.2M379.21,545.4v-5.2M383.88,372.5v5.2M383.88,545.4v-5.2M388.55,372.5v5.2M388.55,545.4v-5.2M393.22,372.5v5.2M393.22,545.4v-5.2M397.89,372.5v5.2M397.89,545.4v-5.2M402.56,372.5v5.2M402.56,545.4v-5.2M407.23,372.5v5.2M407.23,545.4v-5.2M411.91,372.5v5.2M411.91,545.4v-5.2M416.58,372.5v5.2M416.58,545.4v-5.2M421.25,372.5v5.2M421.25,545.4v-5.2M425.92,372.5v5.2M425.92,545.4v-5.2M430.59,372.5v5.2M430.59,545.4v-5.2M435.26,372.5v5.2M435.26,545.4v-5.2M439.93,372.5v5.2M439.93,545.4v-5.2M444.6,372.5v5.2M444.6,545.4v-5.2M449.27,372.5v5.2M449.27,545.4v-5.2M453.94,372.5v5.2M453.94,545.4v-5.2M458.62,372.5v5.2M458.62,545.4v-5.2M463.29,372.5v5.2M463.29,545.4v-5.2M467.96,372.5v5.2M467.96,545.4v-5.2M472.63,372.5v5.2M472.63,545.4v-5.2M477.3,372.5v5.2M477.3,545.4v-5.2M481.97,372.5v5.2M481.97,545.4v-5.2M486.64,372.5v5.2M486.64,545.4v-5.2M491.31,372.5v5.2M491.31,545.4v-5.2M495.98,372.5v5.2M495.98,545.4v-5.2M500.65,372.5v5.2M500.65,545.4v-5.2M505.33,372.5v5.2M505.33,545.4v-5.2M510,372.5v5.2M510,545.4v-5.2M514.67,372.5v5.2M514.67,545.4v-5.2M519.34,372.5v5.2M519.34,545.4v-5.2M524.01,372.5v5.2M524.01,545.4v-5.2M528.68,372.5v5.2M528.68,545.4v-5.2M533.35,372.5v5.2M533.35,545.4v-5.2M538.02,372.5v5.2M538.02,545.4v-5.2M542.69,372.5v5.2M542.69,545.4v-5.2M547.36,372.5v5.2M547.36,545.4v-5.2M552.04,372.5v5.2M552.04,545.4v-5.2M556.71,372.5v5.2M556.71,545.4v-5.2M561.38,372.5v5.2M561.38,545.4v-5.2M566.05,372.5v5.2M566.05,545.4v-5.2M570.72,372.5v5.2M570.72,545.4v-5.2M575.39,372.5v5.2M575.39,545.4v-5.2M580.06,372.5v5.2M580.06,545.4v-5.2M584.73,372.5v5.2M584.73,545.4v-5.2M589.4,372.5v5.2M589.4,545.4v-5.2M594.07,372.5v5.2M594.07,545.4v-5.2M598.75,372.5v5.2M598.75,545.4v-5.2M603.42,372.5v5.2M603.42,545.4v-5.2M608.09,372.5v5.2M608.09,545.4v-5.2M80.0,415.6h5.4M612.6,415.6h-5.4M80.0,458.9h5.4M612.6,458.9h-5.4M80.0,502.2h5.4M612.6,502.2h-5.4" stroke="#5a5a5a" stroke-opacity="0.85" stroke-width="0.75" fill="none"/>
<path d="M80.0,372.5H612.6" stroke="#b4b4b4" stroke-width="0.9"/>
<path d="M612.6,372.5V545.4" stroke="#9a9a9a" stroke-width="0.9"/>
<path d="M80.0,545.4H613.0500000000001" stroke="#787878" stroke-width="0.9"/>
<g font-size="4.7" fill="#686868" stroke="#8c8c8c" stroke-width="0.16"><text transform="translate(81.96,551.4) rotate(-45)" text-anchor="end">L Cerebral White Matter</text><text transform="translate(86.64,551.4) rotate(-45)" text-anchor="end">L Cerebral Cortex</text><text transform="translate(91.31,551.4) rotate(-45)" text-anchor="end">L Lateral Ventricle</text><text transform="translate(95.98,551.4) rotate(-45)" text-anchor="end">L Inf Lat Vent</text><text transform="translate(100.65,551.4) rotate(-45)" text-anchor="end">L Cerebellum White Matter</text><text transform="translate(105.32,551.4) rotate(-45)" text-anchor="end">L Cerebellum Cortex</text><text transform="translate(109.99,551.4) rotate(-45)" text-anchor="end">L Thalamus Proper</text><text transform="translate(114.66,551.4) rotate(-45)" text-anchor="end">L Caudate</text><text transform="translate(119.33,551.4) rotate(-45)" text-anchor="end">L Putamen</text><text transform="translate(124,551.4) rotate(-45)" text-anchor="end">L Pallidum</text><text transform="translate(128.67,551.4) rotate(-45)" text-anchor="end">Third Ventricle</text><text transform="translate(133.35,551.4) rotate(-45)" text-anchor="end">Fourth Ventricle</text><text transform="translate(138.02,551.4) rotate(-45)" text-anchor="end">Brain Stem</text><text transform="translate(142.69,551.4) rotate(-45)" text-anchor="end">L Hippocampus</text><text transform="translate(147.36,551.4) rotate(-45)" text-anchor="end">L Amygdala</text><text transform="translate(152.03,551.4) rotate(-45)" text-anchor="end">CSF</text><text transform="translate(156.7,551.4) rotate(-45)" text-anchor="end">L Accumbens area</text><text transform="translate(161.37,551.4) rotate(-45)" text-anchor="end">L VentralDC</text><text transform="translate(166.04,551.4) rotate(-45)" text-anchor="end">L vessel</text><text transform="translate(170.71,551.4) rotate(-45)" text-anchor="end">L choroid plexus</text><text transform="translate(175.38,551.4) rotate(-45)" text-anchor="end">R Cerebral White Matter</text><text transform="translate(180.06,551.4) rotate(-45)" text-anchor="end">R Cerebral Cortex</text><text transform="translate(184.73,551.4) rotate(-45)" text-anchor="end">R Lateral Ventricle</text><text transform="translate(189.4,551.4) rotate(-45)" text-anchor="end">R Inf Lat Vent</text><text transform="translate(194.07,551.4) rotate(-45)" text-anchor="end">R Cerebellum White Matter</text><text transform="translate(198.74,551.4) rotate(-45)" text-anchor="end">R Cerebellum Cortex</text><text transform="translate(203.41,551.4) rotate(-45)" text-anchor="end">R Thalamus Proper</text><text transform="translate(208.08,551.4) rotate(-45)" text-anchor="end">R Caudate</text><text transform="translate(212.75,551.4) rotate(-45)" text-anchor="end">R Putamen</text><text transform="translate(217.42,551.4) rotate(-45)" text-anchor="end">R Pallidum</text><text transform="translate(222.09,551.4) rotate(-45)" text-anchor="end">R Hippocampus</text><text transform="translate(226.77,551.4) rotate(-45)" text-anchor="end">R Amygdala</text><text transform="translate(231.44,551.4) rotate(-45)" text-anchor="end">R Accumbens area</text><text transform="translate(236.11,551.4) rotate(-45)" text-anchor="end">R VentralDC</text><text transform="translate(240.78,551.4) rotate(-45)" text-anchor="end">R vessel</text><text transform="translate(245.45,551.4) rotate(-45)" text-anchor="end">R choroid plexus</text><text transform="translate(250.12,551.4) rotate(-45)" text-anchor="end">Fifth Ventricle</text><text transform="translate(254.79,551.4) rotate(-45)" text-anchor="end">WM hypointensities</text><text transform="translate(259.46,551.4) rotate(-45)" text-anchor="end">non WM hypointensities</text><text transform="translate(264.13,551.4) rotate(-45)" text-anchor="end">Optic Chiasm</text><text transform="translate(268.8,551.4) rotate(-45)" text-anchor="end">Corpus Callosum Posterior</text><text transform="translate(273.48,551.4) rotate(-45)" text-anchor="end">Corpus Callosum Mid Posterior</text><text transform="translate(278.15,551.4) rotate(-45)" text-anchor="end">Corpus Callosum Central</text><text transform="translate(282.82,551.4) rotate(-45)" text-anchor="end">Corpus Callosum MidAnterior</text><text transform="translate(287.49,551.4) rotate(-45)" text-anchor="end">Corpus Callosum Anterior</text><text transform="translate(292.16,551.4) rotate(-45)" text-anchor="end">L bankssts</text><text transform="translate(296.83,551.4) rotate(-45)" text-anchor="end">L caudalanteriorcingulate</text><text transform="translate(301.5,551.4) rotate(-45)" text-anchor="end">L caudalmiddlefrontal</text><text transform="translate(306.17,551.4) rotate(-45)" text-anchor="end">L cuneus</text><text transform="translate(310.84,551.4) rotate(-45)" text-anchor="end">L entorhinal</text><text transform="translate(315.51,551.4) rotate(-45)" text-anchor="end">L fusiform</text><text transform="translate(320.19,551.4) rotate(-45)" text-anchor="end">L inferiorparietal</text><text transform="translate(324.86,551.4) rotate(-45)" text-anchor="end">L inferiortemporal</text><text transform="translate(329.53,551.4) rotate(-45)" text-anchor="end">L isthmuscingulate</text><text transform="translate(334.2,551.4) rotate(-45)" text-anchor="end">L lateraloccipital</text><text transform="translate(338.87,551.4) rotate(-45)" text-anchor="end">L lateralorbitofrontal</text><text transform="translate(343.54,551.4) rotate(-45)" text-anchor="end">L lingual</text><text transform="translate(348.21,551.4) rotate(-45)" text-anchor="end">L medialorbitofrontal</text><text transform="translate(352.88,551.4) rotate(-45)" text-anchor="end">L middletemporal</text><text transform="translate(357.55,551.4) rotate(-45)" text-anchor="end">L parahippocampal</text><text transform="translate(362.22,551.4) rotate(-45)" text-anchor="end">L paracentral</text><text transform="translate(366.9,551.4) rotate(-45)" text-anchor="end">L parsopercularis</text><text transform="translate(371.57,551.4) rotate(-45)" text-anchor="end">L parsorbitalis</text><text transform="translate(376.24,551.4) rotate(-45)" text-anchor="end">L parstriangularis</text><text transform="translate(380.91,551.4) rotate(-45)" text-anchor="end">L pericalcarine</text><text transform="translate(385.58,551.4) rotate(-45)" text-anchor="end">L postcentral</text><text transform="translate(390.25,551.4) rotate(-45)" text-anchor="end">L posteriorcingulate</text><text transform="translate(394.92,551.4) rotate(-45)" text-anchor="end">L precentral</text><text transform="translate(399.59,551.4) rotate(-45)" text-anchor="end">L precuneus</text><text transform="translate(404.26,551.4) rotate(-45)" text-anchor="end">L rostralanteriorcingulate</text><text transform="translate(408.93,551.4) rotate(-45)" text-anchor="end">L rostralmiddlefrontal</text><text transform="translate(413.61,551.4) rotate(-45)" text-anchor="end">L superiorfrontal</text><text transform="translate(418.28,551.4) rotate(-45)" text-anchor="end">L superiorparietal</text><text transform="translate(422.95,551.4) rotate(-45)" text-anchor="end">L superiortemporal</text><text transform="translate(427.62,551.4) rotate(-45)" text-anchor="end">L supramarginal</text><text transform="translate(432.29,551.4) rotate(-45)" text-anchor="end">L frontalpole</text><text transform="translate(436.96,551.4) rotate(-45)" text-anchor="end">L temporalpole</text><text transform="translate(441.63,551.4) rotate(-45)" text-anchor="end">L transversetemporal</text><text transform="translate(446.3,551.4) rotate(-45)" text-anchor="end">L insula</text><text transform="translate(450.97,551.4) rotate(-45)" text-anchor="end">R bankssts</text><text transform="translate(455.64,551.4) rotate(-45)" text-anchor="end">R caudalanteriorcingulate</text><text transform="translate(460.32,551.4) rotate(-45)" text-anchor="end">R caudalmiddlefrontal</text><text transform="translate(464.99,551.4) rotate(-45)" text-anchor="end">R cuneus</text><text transform="translate(469.66,551.4) rotate(-45)" text-anchor="end">R entorhinal</text><text transform="translate(474.33,551.4) rotate(-45)" text-anchor="end">R fusiform</text><text transform="translate(479,551.4) rotate(-45)" text-anchor="end">R inferiorparietal</text><text transform="translate(483.67,551.4) rotate(-45)" text-anchor="end">R inferiortemporal</text><text transform="translate(488.34,551.4) rotate(-45)" text-anchor="end">R isthmuscingulate</text><text transform="translate(493.01,551.4) rotate(-45)" text-anchor="end">R lateraloccipital</text><text transform="translate(497.68,551.4) rotate(-45)" text-anchor="end">R lateralorbitofrontal</text><text transform="translate(502.35,551.4) rotate(-45)" text-anchor="end">R lingual</text><text transform="translate(507.03,551.4) rotate(-45)" text-anchor="end">R medialorbitofrontal</text><text transform="translate(511.7,551.4) rotate(-45)" text-anchor="end">R middletemporal</text><text transform="translate(516.37,551.4) rotate(-45)" text-anchor="end">R parahippocampal</text><text transform="translate(521.04,551.4) rotate(-45)" text-anchor="end">R paracentral</text><text transform="translate(525.71,551.4) rotate(-45)" text-anchor="end">R parsopercularis</text><text transform="translate(530.38,551.4) rotate(-45)" text-anchor="end">R parsorbitalis</text><text transform="translate(535.05,551.4) rotate(-45)" text-anchor="end">R parstriangularis</text><text transform="translate(539.72,551.4) rotate(-45)" text-anchor="end">R pericalcarine</text><text transform="translate(544.39,551.4) rotate(-45)" text-anchor="end">R postcentral</text><text transform="translate(549.06,551.4) rotate(-45)" text-anchor="end">R posteriorcingulate</text><text transform="translate(553.74,551.4) rotate(-45)" text-anchor="end">R precentral</text><text transform="translate(558.41,551.4) rotate(-45)" text-anchor="end">R precuneus</text><text transform="translate(563.08,551.4) rotate(-45)" text-anchor="end">R rostralanteriorcingulate</text><text transform="translate(567.75,551.4) rotate(-45)" text-anchor="end">R rostralmiddlefrontal</text><text transform="translate(572.42,551.4) rotate(-45)" text-anchor="end">R superiorfrontal</text><text transform="translate(577.09,551.4) rotate(-45)" text-anchor="end">R superiorparietal</text><text transform="translate(581.76,551.4) rotate(-45)" text-anchor="end">R superiortemporal</text><text transform="translate(586.43,551.4) rotate(-45)" text-anchor="end">R supramarginal</text><text transform="translate(591.1,551.4) rotate(-45)" text-anchor="end">R frontalpole</text><text transform="translate(595.77,551.4) rotate(-45)" text-anchor="end">R temporalpole</text><text transform="translate(600.45,551.4) rotate(-45)" text-anchor="end">R transversetemporal</text><text transform="translate(605.12,551.4) rotate(-45)" text-anchor="end">R insula</text><text transform="translate(609.79,551.4) rotate(-45)" text-anchor="end">L unknown</text></g>
<rect x="616.6" y="374.7" width="11.2" height="50.6" fill="#FFD966"/>
<rect x="616.6" y="425.3" width="11.2" height="50.1" fill="#A9D18E"/>
<rect x="616.6" y="475.4" width="11.2" height="50.1" fill="#BFBFBF"/>
<path d="M616.6,425.3h11.2M616.6,475.4h11.2" stroke="#222" stroke-width="0.8"/>
<rect x="616.6" y="374.7" width="11.2" height="150.8" fill="none" stroke="#222" stroke-width="0.9"/>
<text transform="translate(631.6,403.7) scale(0.915,1)" font-size="11" fill="#1a1a1a">Increase</text>
<text transform="translate(631.6,451.9) scale(0.9,1)" font-size="11" fill="#1a1a1a">Decrease</text>
<text transform="translate(633.6,501.5) scale(0.915,1)" font-size="11" fill="#1a1a1a">No change</text>
<text x="354.7" y="366.3" text-anchor="middle" font-size="19.05" fill="#111">Regional FA variation</text>
<text x="0.8" y="409" font-size="13.7" fill="#111">22/115</text>
<text x="0.8" y="425.2" font-size="13.7" fill="#111">regions</text>
<text x="0.8" y="498.6" font-size="13.7" fill="#111">11/115</text>
<text x="0.8" y="514.5" font-size="13.7" fill="#111">regions</text>
<text transform="translate(73.2,412.6) rotate(-90)" text-anchor="middle" font-size="15.3" fill="#111">nADrp/ADrp</text>
<text transform="translate(75.2,530.1) rotate(-90)" font-size="15" fill="#111">MCI<tspan font-size="10.5" dy="3.2">AD</tspan><tspan dy="-3.2">/AD</tspan></text>
<rect x="106.2" y="630.4" width="11.5" height="35.4" fill="#80FF80"/>
<rect x="116.7" y="630.4" width="21.09" height="35.4" fill="#0000F0"/>
<rect x="136.79" y="630.4" width="21.09" height="35.4" fill="#00BFFF"/>
<rect x="156.88" y="630.4" width="21.09" height="35.4" fill="#00E0FF"/>
<rect x="176.97" y="630.4" width="21.09" height="35.4" fill="#12FFED"/>
<rect x="197.06" y="630.4" width="21.09" height="35.4" fill="#0070FF"/>
<rect x="217.15" y="630.4" width="21.09" height="35.4" fill="#000000"/>
<rect x="237.24" y="630.4" width="21.09" height="35.4" fill="#0070FF"/>
<rect x="257.33" y="630.4" width="21.09" height="35.4" fill="#00D0FF"/>
<rect x="277.42" y="630.4" width="21.09" height="35.4" fill="#80FF80"/>
<rect x="297.51" y="630.4" width="21.09" height="35.4" fill="#0000A0"/>
<rect x="317.6" y="630.4" width="21.09" height="35.4" fill="#00C0FF"/>
<rect x="337.69" y="630.4" width="21.09" height="35.4" fill="#00C0FF"/>
<rect x="357.78" y="630.4" width="21.09" height="35.4" fill="#00B4FF"/>
<rect x="377.87" y="630.4" width="21.09" height="35.4" fill="#00C0FF"/>
<rect x="397.96" y="630.4" width="21.09" height="35.4" fill="#800000"/>
<rect x="418.05" y="630.4" width="21.09" height="35.4" fill="#000000"/>
<rect x="438.14" y="630.4" width="21.09" height="35.4" fill="#000000"/>
<rect x="458.23" y="630.4" width="21.09" height="35.4" fill="#FFD000"/>
<rect x="478.32" y="630.4" width="21.09" height="35.4" fill="#FF5000"/>
<rect x="498.41" y="630.4" width="21.09" height="35.4" fill="#0068FF"/>
<rect x="518.5" y="630.4" width="21.09" height="35.4" fill="#0068FF"/>
<rect x="538.59" y="630.4" width="21.09" height="35.4" fill="#000000"/>
<rect x="558.68" y="630.4" width="21.09" height="35.4" fill="#0080FF"/>
<rect x="578.77" y="630.4" width="21.09" height="35.4" fill="#0088FF"/>
<rect x="598.86" y="630.4" width="9.84" height="35.4" fill="#0078FF"/>
<rect x="106.2" y="664.8" width="11.5" height="36.8" fill="#40FFBF"/>
<rect x="116.7" y="664.8" width="21.09" height="36.8" fill="#0090FF"/>
<rect x="136.79" y="664.8" width="21.09" height="36.8" fill="#0090FF"/>
<rect x="156.88" y="664.8" width="21.09" height="36.8" fill="#00A0FF"/>
<rect x="176.97" y="664.8" width="21.09" height="36.8" fill="#50FFAF"/>
<rect x="197.06" y="664.8" width="21.09" height="36.8" fill="#0060FF"/>
<rect x="217.15" y="664.8" width="21.09" height="36.8" fill="#000000"/>
<rect x="237.24" y="664.8" width="21.09" height="36.8" fill="#0060FF"/>
<rect x="257.33" y="664.8" width="21.09" height="36.8" fill="#0088FF"/>
<rect x="277.42" y="664.8" width="21.09" height="36.8" fill="#4CFFB3"/>
<rect x="297.51" y="664.8" width="21.09" height="36.8" fill="#0078FF"/>
<rect x="317.6" y="664.8" width="21.09" height="36.8" fill="#0098FF"/>
<rect x="337.69" y="664.8" width="21.09" height="36.8" fill="#0080FF"/>
<rect x="357.78" y="664.8" width="21.09" height="36.8" fill="#009CFF"/>
<rect x="377.87" y="664.8" width="21.09" height="36.8" fill="#0080FF"/>
<rect x="397.96" y="664.8" width="21.09" height="36.8" fill="#FF2000"/>
<rect x="418.05" y="664.8" width="21.09" height="36.8" fill="#000000"/>
<rect x="438.14" y="664.8" width="21.09" height="36.8" fill="#000000"/>
<rect x="458.23" y="664.8" width="21.09" height="36.8" fill="#A0FF60"/>
<rect x="478.32" y="664.8" width="21.09" height="36.8" fill="#FFD800"/>
<rect x="498.41" y="664.8" width="21.09" height="36.8" fill="#0050FF"/>
<rect x="518.5" y="664.8" width="21.09" height="36.8" fill="#0040FF"/>
<rect x="538.59" y="664.8" width="21.09" height="36.8" fill="#000000"/>
<rect x="558.68" y="664.8" width="21.09" height="36.8" fill="#0060FF"/>
<rect x="578.77" y="664.8" width="21.09" height="36.8" fill="#0060FF"/>
<rect x="598.86" y="664.8" width="9.84" height="36.8" fill="#0070FF"/>
<rect x="106.2" y="700.6" width="11.5" height="36" fill="#000000"/>
<rect x="116.7" y="700.6" width="21.09" height="36" fill="#000000"/>
<rect x="136.79" y="700.6" width="21.09" height="36" fill="#00B0FF"/>
<rect x="156.88" y="700.6" width="21.09" height="36" fill="#000000"/>
<rect x="176.97" y="700.6" width="21.09" height="36" fill="#000000"/>
<rect x="197.06" y="700.6" width="21.09" height="36" fill="#000000"/>
<rect x="217.15" y="700.6" width="21.09" height="36" fill="#0070FF"/>
<rect x="237.24" y="700.6" width="21.09" height="36" fill="#000000"/>
<rect x="257.33" y="700.6" width="21.09" height="36" fill="#00B8FF"/>
<rect x="277.42" y="700.6" width="21.09" height="36" fill="#80FF80"/>
<rect x="297.51" y="700.6" width="21.09" height="36" fill="#000000"/>
<rect x="317.6" y="700.6" width="21.09" height="36" fill="#000000"/>
<rect x="337.69" y="700.6" width="21.09" height="36" fill="#00C0FF"/>
<rect x="357.78" y="700.6" width="21.09" height="36" fill="#000000"/>
<rect x="377.87" y="700.6" width="21.09" height="36" fill="#000000"/>
<rect x="397.96" y="700.6" width="21.09" height="36" fill="#C00000"/>
<rect x="418.05" y="700.6" width="21.09" height="36" fill="#FFFF00"/>
<rect x="438.14" y="700.6" width="21.09" height="36" fill="#FFB000"/>
<rect x="458.23" y="700.6" width="21.09" height="36" fill="#000000"/>
<rect x="478.32" y="700.6" width="21.09" height="36" fill="#FF8800"/>
<rect x="498.41" y="700.6" width="21.09" height="36" fill="#000000"/>
<rect x="518.5" y="700.6" width="21.09" height="36" fill="#000000"/>
<rect x="538.59" y="700.6" width="21.09" height="36" fill="#0078FF"/>
<rect x="558.68" y="700.6" width="21.09" height="36" fill="#000000"/>
<rect x="578.77" y="700.6" width="21.09" height="36" fill="#0078FF"/>
<rect x="598.86" y="700.6" width="9.84" height="36" fill="#000000"/>
<rect x="106.2" y="735.6" width="11.5" height="34.5" fill="#000000"/>
<rect x="116.7" y="735.6" width="21.09" height="34.5" fill="#000000"/>
<rect x="136.79" y="735.6" width="21.09" height="34.5" fill="#0090FF"/>
<rect x="156.88" y="735.6" width="21.09" height="34.5" fill="#000000"/>
<rect x="176.97" y="735.6" width="21.09" height="34.5" fill="#000000"/>
<rect x="197.06" y="735.6" width="21.09" height="34.5" fill="#000000"/>
<rect x="217.15" y="735.6" width="21.09" height="34.5" fill="#00C0FF"/>
<rect x="237.24" y="735.6" width="21.09" height="34.5" fill="#000000"/>
<rect x="257.33" y="735.6" width="21.09" height="34.5" fill="#0090FF"/>
<rect x="277.42" y="735.6" width="21.09" height="34.5" fill="#4CFFB3"/>
<rect x="297.51" y="735.6" width="21.09" height="34.5" fill="#000000"/>
<rect x="317.6" y="735.6" width="21.09" height="34.5" fill="#000000"/>
<rect x="337.69" y="735.6" width="21.09" height="34.5" fill="#0090FF"/>
<rect x="357.78" y="735.6" width="21.09" height="34.5" fill="#000000"/>
<rect x="377.87" y="735.6" width="21.09" height="34.5" fill="#000000"/>
<rect x="397.96" y="735.6" width="21.09" height="34.5" fill="#FF2000"/>
<rect x="418.05" y="735.6" width="21.09" height="34.5" fill="#B0FF50"/>
<rect x="438.14" y="735.6" width="21.09" height="34.5" fill="#D8FF28"/>
<rect x="458.23" y="735.6" width="21.09" height="34.5" fill="#000000"/>
<rect x="478.32" y="735.6" width="21.09" height="34.5" fill="#FFDD00"/>
<rect x="498.41" y="735.6" width="21.09" height="34.5" fill="#000000"/>
<rect x="518.5" y="735.6" width="21.09" height="34.5" fill="#000000"/>
<rect x="538.59" y="735.6" width="21.09" height="34.5" fill="#0050FF"/>
<rect x="558.68" y="735.6" width="21.09" height="34.5" fill="#000000"/>
<rect x="578.77" y="735.6" width="21.09" height="34.5" fill="#0040FF"/>
<rect x="598.86" y="735.6" width="9.84" height="34.5" fill="#000000"/>
<path d="M126.75,630.4v4.7M126.75,770.1v-4.7M146.84,630.4v4.7M146.84,770.1v-4.7M166.93,630.4v4.7M166.93,770.1v-4.7M187.01,630.4v4.7M187.01,770.1v-4.7M207.11,630.4v4.7M207.11,770.1v-4.7M227.19,630.4v4.7M227.19,770.1v-4.7M247.29,630.4v4.7M247.29,770.1v-4.7M267.38,630.4v4.7M267.38,770.1v-4.7M287.46,630.4v4.7M287.46,770.1v-4.7M307.56,630.4v4.7M307.56,770.1v-4.7M327.64,630.4v4.7M327.64,770.1v-4.7M347.74,630.4v4.7M347.74,770.1v-4.7M367.82,630.4v4.7M367.82,770.1v-4.7M387.91,630.4v4.7M387.91,770.1v-4.7M408,630.4v4.7M408,770.1v-4.7M428.09,630.4v4.7M428.09,770.1v-4.7M448.19,630.4v4.7M448.19,770.1v-4.7M468.27,630.4v4.7M468.27,770.1v-4.7M488.37,630.4v4.7M488.37,770.1v-4.7M508.45,630.4v4.7M508.45,770.1v-4.7M528.54,630.4v4.7M528.54,770.1v-4.7M548.63,630.4v4.7M548.63,770.1v-4.7M568.73,630.4v4.7M568.73,770.1v-4.7M588.82,630.4v4.7M588.82,770.1v-4.7M106.2,647.6h5.5M608.7,647.6h-5.5M106.2,682.7h5.5M608.7,682.7h-5.5M106.2,718.1h5.5M608.7,718.1h-5.5M106.2,752.85h5.5M608.7,752.85h-5.5" stroke="#444" stroke-width="0.7" fill="none"/>
<rect x="106.2" y="630.4" width="502.5" height="139.7" fill="none" stroke="#777" stroke-width="0.9"/>
<defs><linearGradient id="jet" x1="0" y1="1" x2="0" y2="0"><stop offset="0" stop-color="#000004"/><stop offset="0.125" stop-color="#0000FF"/><stop offset="0.375" stop-color="#00FFFF"/><stop offset="0.625" stop-color="#FFFF00"/><stop offset="0.875" stop-color="#FF0000"/><stop offset="1" stop-color="#800000"/></linearGradient></defs>
<rect x="614.2" y="630.5" width="12.5" height="139.5" fill="url(#jet)" stroke="#222" stroke-width="0.8"/>
<text x="635.3" y="635.3" font-size="9.4" fill="#222">0.5</text>
<text x="635.3" y="658.4" font-size="9.4" fill="#222">0.4</text>
<text x="635.3" y="687.4" font-size="9.4" fill="#222">0.3</text>
<text x="635.3" y="716.1" font-size="9.4" fill="#222">0.2</text>
<text x="635.3" y="744.5" font-size="9.4" fill="#222">0.1</text>
<text x="634.8" y="773.6" font-size="9.4" fill="#222">ABS</text>
<text x="96.6" y="650.9" text-anchor="end" font-size="12.1" fill="#111">nADrd</text>
<text x="96.6" y="685.8" text-anchor="end" font-size="12.1" fill="#111">ADrd</text>
<text x="96.6" y="720.5" text-anchor="end" font-size="12.1" fill="#111">MCI</text>
<text x="96.6" y="754.5" text-anchor="end" font-size="12.1" fill="#111">AD</text>
<text x="354" y="618.6" text-anchor="middle" font-size="19.0" fill="#111">Absolute FA values</text>
<g font-size="9.0" fill="#222"><text transform="translate(111.5,780) rotate(-45)" text-anchor="end">L Cerebral White Matter</text><text transform="translate(132.05,780) rotate(-45)" text-anchor="end">L Cerebral Cortex</text><text transform="translate(152.14,780) rotate(-45)" text-anchor="end">L Lateral Ventricle</text><text transform="translate(172.23,780) rotate(-45)" text-anchor="end">L Inf Lat Vent</text><text transform="translate(192.31,780) rotate(-45)" text-anchor="end">L Caudate</text><text transform="translate(212.41,780) rotate(-45)" text-anchor="end">Third Ventricle</text><text transform="translate(228.96,783.53) rotate(-45)" text-anchor="end">L Amygdala</text><text transform="translate(252.59,780) rotate(-45)" text-anchor="end">CSF</text><text transform="translate(272.68,780) rotate(-45)" text-anchor="end">L choroid plexus</text><text transform="translate(292.76,780) rotate(-45)" text-anchor="end">R Cerebral White Matter</text><text transform="translate(312.86,780) rotate(-45)" text-anchor="end">R Cerebral Cortex</text><text transform="translate(332.94,780) rotate(-45)" text-anchor="end">R Lateral Ventricle</text><text transform="translate(353.04,780) rotate(-45)" text-anchor="end">R Inf Lat Vent</text><text transform="translate(373.12,780) rotate(-45)" text-anchor="end">R Cerebellum Cortex</text><text transform="translate(393.21,780) rotate(-45)" text-anchor="end">R choroid plexus</text><text transform="translate(413.31,780) rotate(-45)" text-anchor="end">Corpus Callosum Posterior</text><text transform="translate(430.35,783.04) rotate(-45)" text-anchor="end">Corpus Callosum Mid Posterior</text><text transform="translate(450.44,783.04) rotate(-45)" text-anchor="end">Corpus Callosum Central</text><text transform="translate(473.57,780) rotate(-45)" text-anchor="end">Corpus Callosum MidAnterior</text><text transform="translate(493.67,780) rotate(-45)" text-anchor="end">Corpus Callosum Anterior</text><text transform="translate(513.75,780) rotate(-45)" text-anchor="end">L precentral</text><text transform="translate(533.84,780) rotate(-45)" text-anchor="end">L superiorparietal</text><text transform="translate(553.93,780) rotate(-45)" text-anchor="end">L superiortemporal</text><text transform="translate(574.02,780) rotate(-45)" text-anchor="end">R inferiortemporal</text><text transform="translate(594.12,780) rotate(-45)" text-anchor="end">R middletemporal</text><text transform="translate(614,780) rotate(-45)" text-anchor="end">R temporalpole</text></g>
</svg></body></html>
